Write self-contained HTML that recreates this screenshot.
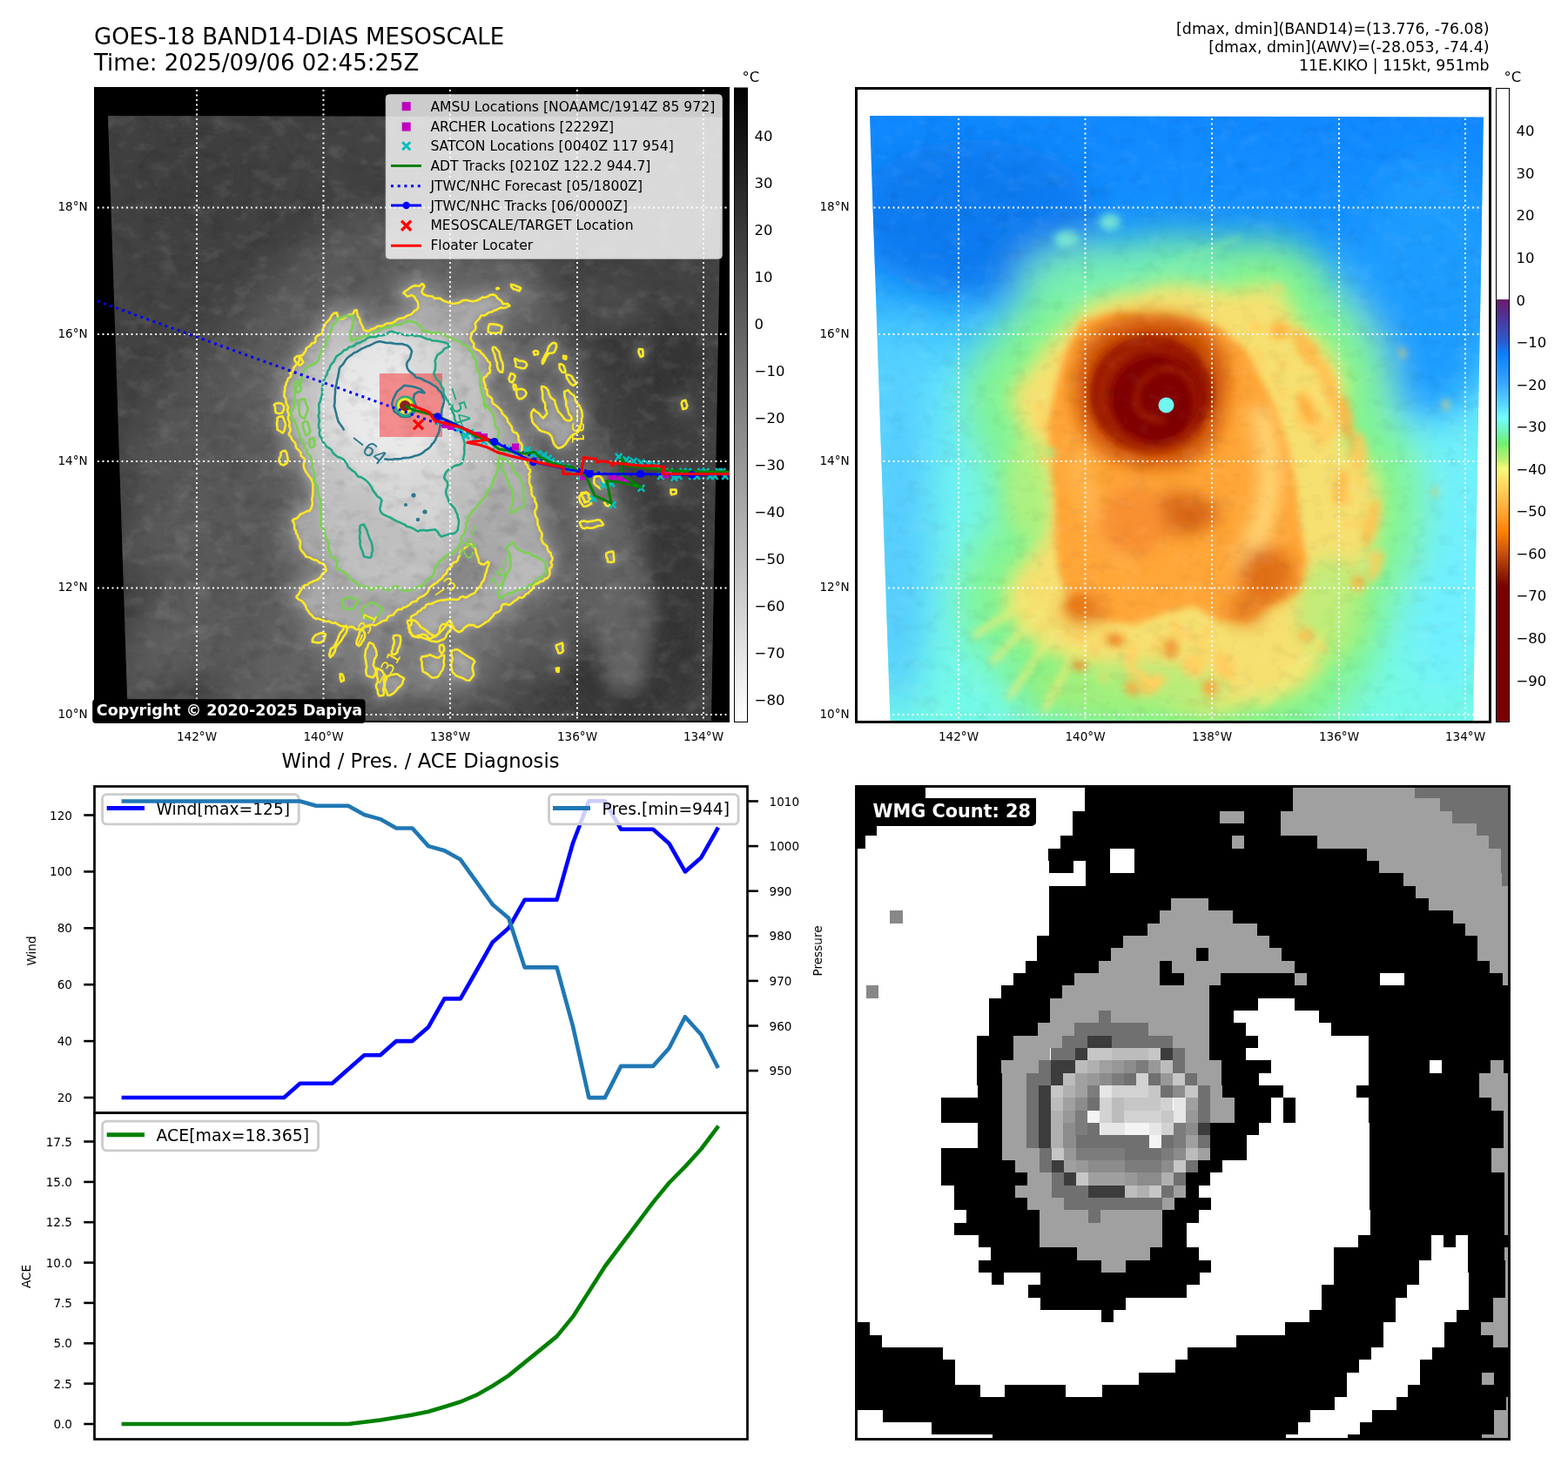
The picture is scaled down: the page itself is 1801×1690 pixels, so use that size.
<!DOCTYPE html>
<html><head><meta charset="utf-8"><title>GOES-18 BAND14-DIAS MESOSCALE</title>
<style>html,body{margin:0;padding:0;background:#fff;} svg{display:block;} text{font-family:"DejaVu Sans","Liberation Sans",sans-serif;}</style>
</head><body>
<svg xmlns="http://www.w3.org/2000/svg" width="1801" height="1690" viewBox="0 0 1801 1690">
<rect width="1801" height="1690" fill="#fff"/>
<text x="108.0" y="50.7" font-size="26" text-anchor="start" font-weight="normal" fill="#000" >GOES-18 BAND14-DIAS MESOSCALE</text>
<text x="108.0" y="80.5" font-size="26" text-anchor="start" font-weight="normal" fill="#000" >Time: 2025/09/06 02:45:25Z</text>
<text x="1710.5" y="39.0" font-size="17.4" text-anchor="end" font-weight="normal" fill="#000" >[dmax, dmin](BAND14)=(13.776, -76.08)</text>
<text x="1710.5" y="60.0" font-size="17.4" text-anchor="end" font-weight="normal" fill="#000" >[dmax, dmin](AWV)=(-28.053, -74.4)</text>
<text x="1710.5" y="80.5" font-size="17.4" text-anchor="end" font-weight="normal" fill="#000" >11E.KIKO | 115kt, 951mb</text>
<rect x="108" y="100" width="730" height="730" fill="#000"/>
<defs><clipPath id="tlclip"><polygon points="124,133 829.5,134.5 817,828 147,828"/></clipPath><filter id="bl4" filterUnits="userSpaceOnUse" x="0" y="0" width="1801" height="900"><feGaussianBlur stdDeviation="4"/></filter><filter id="bl10" filterUnits="userSpaceOnUse" x="0" y="0" width="1801" height="900"><feGaussianBlur stdDeviation="10"/></filter><filter id="bl22" filterUnits="userSpaceOnUse" x="0" y="0" width="1801" height="900"><feGaussianBlur stdDeviation="22"/></filter></defs>
<g clip-path="url(#tlclip)">
<rect x="110" y="120" width="720" height="720" fill="#424242"/>
<g filter="url(#bl22)">
<ellipse cx="720" cy="700" rx="90" ry="140" fill="#363636"/>
<ellipse cx="690" cy="420" rx="80" ry="60" fill="#3a3a3a"/>
<ellipse cx="220" cy="200" rx="90" ry="60" fill="#3c3c3c"/>
<ellipse cx="250" cy="560" rx="90" ry="160" fill="#555" />
<ellipse cx="300" cy="720" rx="110" ry="60" fill="#5a5a5a"/>
<ellipse cx="470" cy="330" rx="120" ry="40" fill="#5a5a5a"/>
<ellipse cx="640" cy="620" rx="60" ry="120" fill="#5a5a5a"/>
</g>
<g filter="url(#bl22)" opacity="0.9">
<ellipse cx="450" cy="560" rx="250" ry="300" fill="#555"/>
<ellipse transform="rotate(-35 250 690)" cx="250" cy="690" rx="130" ry="40" fill="#646464"/>
<ellipse transform="rotate(-30 220 600)" cx="220" cy="600" rx="90" ry="30" fill="#5e5e5e"/>
<ellipse transform="rotate(-40 330 770)" cx="330" cy="770" rx="110" ry="35" fill="#666"/>
<ellipse transform="rotate(-60 400 300)" cx="400" cy="300" rx="70" ry="30" fill="#5a5a5a"/>
<ellipse transform="rotate(-35 200 760)" cx="200" cy="760" rx="90" ry="22" fill="#606060"/>
<ellipse transform="rotate(-40 280 610)" cx="280" cy="610" rx="70" ry="20" fill="#626262"/>
<ellipse transform="rotate(-20 180 520)" cx="180" cy="520" rx="50" ry="18" fill="#585858"/>
<ellipse cx="700" cy="640" rx="50" ry="110" fill="#4c4c4c"/>
<ellipse cx="760" cy="450" rx="50" ry="60" fill="#3a3a3a"/>
</g>
<g filter="url(#bl10)">
<path d="M635,470 L680,505 L725,590 L750,690 L742,790 L700,800 L672,700 L645,610 L625,530 Z" fill="#646464"/>
<ellipse cx="772" cy="420" rx="34" ry="40" fill="#353535"/>
<ellipse cx="775" cy="640" rx="28" ry="80" fill="#393939"/>
<ellipse cx="700" cy="350" rx="40" ry="30" fill="#4c4c4c"/>
</g>
<g filter="url(#bl22)">
<path d="M333.2,429.7 L339.0,421.1 L343.3,413.8 L349.1,405.2 L356.3,396.5 L363.5,389.3 L369.3,382.1 L373.6,374.9 L379.4,366.2 L383.7,360.4 L386.6,359.0 L388.1,367.6 L392.4,366.2 L401.1,361.9 L409.7,356.1 L412.6,363.3 L415.5,372.0 L416.9,379.2 L421.3,379.2 L427.0,377.7 L434.3,376.3 L441.5,373.4 L450.1,370.5 L458.8,366.2 L466.0,363.3 L471.8,361.9 L476.1,360.4 L479.0,353.2 L480.5,346.0 L476.1,340.2 L467.5,341.7 L463.1,337.3 L467.5,331.5 L476.1,328.7 L487.7,326.5 L489.1,330.1 L484.8,334.4 L487.7,338.8 L496.3,341.7 L505.0,343.1 L512.2,347.4 L519.4,348.9 L526.6,347.4 L536.8,346.0 L545.4,344.5 L554.1,341.7 L560.0,340.2 L566.2,340.0 L572.3,343.1 L576.9,349.2 L586.2,350.8 L575.4,353.8 L564.6,356.9 L555.4,361.5 L549.2,366.2 L546.2,372.3 L543.1,380.0 L540.0,386.2 L546.2,400.0 L555.4,407.7 L561.5,416.9 L564.6,426.2 L556.9,433.8 L555.4,441.5 L560.0,450.8 L564.6,458.5 L569.2,464.6 L573.8,470.8 L578.5,476.9 L583.1,484.6 L587.7,490.8 L592.3,498.5 L596.9,504.6 L600.0,515.4 L603.1,527.7 L607.7,540.0 L609.2,560.0 L610.3,560.0 L613.5,572.2 L615.2,586.9 L617.2,596.6 L619.6,608.9 L623.3,621.1 L629.9,630.9 L633.5,640.6 L632.3,654.1 L628.2,663.8 L620.8,668.7 L613.5,673.6 L606.2,680.9 L596.4,687.0 L586.6,693.2 L576.8,696.8 L570.7,704.1 L563.4,711.5 L554.9,716.4 L546.3,720.0 L539.0,717.6 L534.1,722.5 L528.0,726.1 L521.9,722.5 L515.8,717.6 L508.4,716.4 L501.1,728.6 L495.0,733.5 L487.7,728.6 L480.3,731.0 L473.0,731.0 L469.3,721.3 L473.0,709.0 L477.9,704.1 L485.2,699.3 L492.6,694.4 L499.9,689.5 L507.2,688.3 L514.5,689.5 L521.9,689.5 L529.2,687.0 L536.5,684.6 L542.6,682.2 L548.8,677.3 L553.6,672.4 L556.1,665.1 L559.7,657.7 L562.2,649.2 L559.7,644.3 L556.1,649.2 L551.2,645.5 L547.5,638.2 L545.1,629.6 L541.4,624.7 L536.5,626.0 L532.9,630.9 L528.0,638.2 L523.1,644.3 L518.2,650.4 L514.5,656.5 L509.7,662.6 L502.3,669.9 L495.0,676.1 L487.7,682.2 L480.3,688.3 L470.6,694.4 L460.8,699.3 L451.0,706.6 L441.3,713.9 L431.5,718.8 L421.7,720.0 L411.9,722.5 L402.2,721.3 L394.8,718.8 L387.5,716.4 L377.7,712.7 L368.0,712.7 L360.6,709.0 L355.7,704.1 L350.9,696.8 L343.5,689.5 L338.6,684.6 L342.3,682.2 L348.4,674.8 L355.7,669.9 L363.1,665.1 L370.4,660.2 L375.3,655.3 L372.8,648.0 L368.0,645.5 L363.1,643.1 L353.3,640.6 L351.1,640.1 L345.5,627.3 L339.8,613.1 L335.5,598.9 L356.8,584.7 L358.2,570.5 L359.7,556.2 L349.7,542.0 L349.0,527.8 L341.2,513.6 L332.7,499.4 L331.2,471.0 L325.6,449.7 L334.1,428.4 Z" fill="#7a7a7a" stroke="#626262" stroke-width="110" stroke-linejoin="round"/>
<path d="M330,420 L360,300 L420,250 L470,300 L420,380 Z" fill="#5a5a5a"/>
<path d="M230,560 L330,470 L330,700 L230,760 Z" fill="#585858"/>
<ellipse cx="470" cy="740" rx="120" ry="60" fill="#6a6a6a"/>
<ellipse cx="615" cy="450" rx="50" ry="70" fill="#5c5c5c"/>
</g>
<g filter="url(#bl10)">
<path d="M395,712 L470,705 L545,725 L550,790 L480,800 L420,790 L385,760 Z" fill="#7a7a7a"/>
<path d="M460,715 L520,660 L545,628 L560,640 L540,690 L500,720 Z" fill="#8a8a8a"/>
<path d="M333.2,429.7 L339.0,421.1 L343.3,413.8 L349.1,405.2 L356.3,396.5 L363.5,389.3 L369.3,382.1 L373.6,374.9 L379.4,366.2 L383.7,360.4 L386.6,359.0 L388.1,367.6 L392.4,366.2 L401.1,361.9 L409.7,356.1 L412.6,363.3 L415.5,372.0 L416.9,379.2 L421.3,379.2 L427.0,377.7 L434.3,376.3 L441.5,373.4 L450.1,370.5 L458.8,366.2 L466.0,363.3 L471.8,361.9 L476.1,360.4 L479.0,353.2 L480.5,346.0 L476.1,340.2 L467.5,341.7 L463.1,337.3 L467.5,331.5 L476.1,328.7 L487.7,326.5 L489.1,330.1 L484.8,334.4 L487.7,338.8 L496.3,341.7 L505.0,343.1 L512.2,347.4 L519.4,348.9 L526.6,347.4 L536.8,346.0 L545.4,344.5 L554.1,341.7 L560.0,340.2 L566.2,340.0 L572.3,343.1 L576.9,349.2 L586.2,350.8 L575.4,353.8 L564.6,356.9 L555.4,361.5 L549.2,366.2 L546.2,372.3 L543.1,380.0 L540.0,386.2 L546.2,400.0 L555.4,407.7 L561.5,416.9 L564.6,426.2 L556.9,433.8 L555.4,441.5 L560.0,450.8 L564.6,458.5 L569.2,464.6 L573.8,470.8 L578.5,476.9 L583.1,484.6 L587.7,490.8 L592.3,498.5 L596.9,504.6 L600.0,515.4 L603.1,527.7 L607.7,540.0 L609.2,560.0 L610.3,560.0 L613.5,572.2 L615.2,586.9 L617.2,596.6 L619.6,608.9 L623.3,621.1 L629.9,630.9 L633.5,640.6 L632.3,654.1 L628.2,663.8 L620.8,668.7 L613.5,673.6 L606.2,680.9 L596.4,687.0 L586.6,693.2 L576.8,696.8 L570.7,704.1 L563.4,711.5 L554.9,716.4 L546.3,720.0 L539.0,717.6 L534.1,722.5 L528.0,726.1 L521.9,722.5 L515.8,717.6 L508.4,716.4 L501.1,728.6 L495.0,733.5 L487.7,728.6 L480.3,731.0 L473.0,731.0 L469.3,721.3 L473.0,709.0 L477.9,704.1 L485.2,699.3 L492.6,694.4 L499.9,689.5 L507.2,688.3 L514.5,689.5 L521.9,689.5 L529.2,687.0 L536.5,684.6 L542.6,682.2 L548.8,677.3 L553.6,672.4 L556.1,665.1 L559.7,657.7 L562.2,649.2 L559.7,644.3 L556.1,649.2 L551.2,645.5 L547.5,638.2 L545.1,629.6 L541.4,624.7 L536.5,626.0 L532.9,630.9 L528.0,638.2 L523.1,644.3 L518.2,650.4 L514.5,656.5 L509.7,662.6 L502.3,669.9 L495.0,676.1 L487.7,682.2 L480.3,688.3 L470.6,694.4 L460.8,699.3 L451.0,706.6 L441.3,713.9 L431.5,718.8 L421.7,720.0 L411.9,722.5 L402.2,721.3 L394.8,718.8 L387.5,716.4 L377.7,712.7 L368.0,712.7 L360.6,709.0 L355.7,704.1 L350.9,696.8 L343.5,689.5 L338.6,684.6 L342.3,682.2 L348.4,674.8 L355.7,669.9 L363.1,665.1 L370.4,660.2 L375.3,655.3 L372.8,648.0 L368.0,645.5 L363.1,643.1 L353.3,640.6 L351.1,640.1 L345.5,627.3 L339.8,613.1 L335.5,598.9 L356.8,584.7 L358.2,570.5 L359.7,556.2 L349.7,542.0 L349.0,527.8 L341.2,513.6 L332.7,499.4 L331.2,471.0 L325.6,449.7 L334.1,428.4 Z" fill="#949494" stroke="#848484" stroke-width="22" stroke-linejoin="round"/>
<path d="M358.0,737.9 L360.0,731.9 L368.0,725.9 L374.0,727.9 L372.0,735.9 L364.0,739.9 Z" fill="#8a8a8a" stroke="#7a7a7a" stroke-width="8"/>
<path d="M397.9,717.9 L399.9,723.9 L389.9,737.9 L383.9,747.9 L380.0,755.9 L377.0,751.9 L383.9,739.9 L391.9,727.9 Z" fill="#8a8a8a" stroke="#7a7a7a" stroke-width="8"/>
<path d="M415.9,721.9 L419.9,727.9 L411.9,743.9 L407.9,739.9 L411.9,729.9 Z" fill="#8a8a8a" stroke="#7a7a7a" stroke-width="8"/>
<path d="M423.9,737.9 L429.9,739.9 L431.9,751.9 L427.9,763.9 L431.9,771.9 L427.9,779.9 L421.9,775.9 L419.9,763.9 L417.9,751.9 Z" fill="#8a8a8a" stroke="#7a7a7a" stroke-width="8"/>
<path d="M431.9,767.9 L439.9,769.9 L443.9,779.9 L439.9,791.9 L441.9,799.9 L435.9,799.9 L431.9,789.9 L433.9,779.9 Z" fill="#8a8a8a" stroke="#7a7a7a" stroke-width="8"/>
<path d="M439.9,779.9 L451.9,773.9 L459.9,775.9 L465.9,779.9 L459.9,787.9 L451.9,795.9 L443.9,799.9 Z" fill="#8a8a8a" stroke="#7a7a7a" stroke-width="8"/>
<path d="M451.9,729.9 L459.9,729.9 L459.9,739.9 L453.9,751.9 L449.9,751.9 L451.9,739.9 Z" fill="#8a8a8a" stroke="#7a7a7a" stroke-width="8"/>
<path d="M483.9,753.9 L493.9,751.9 L503.9,755.9 L509.9,751.9 L509.9,763.9 L505.9,775.9 L499.9,779.9 L491.9,775.9 L485.9,771.9 L483.9,763.9 Z" fill="#8a8a8a" stroke="#7a7a7a" stroke-width="8"/>
<path d="M517.9,747.9 L523.9,745.9 L533.9,751.9 L539.9,755.9 L545.9,759.9 L541.9,765.9 L545.9,775.9 L539.9,781.9 L531.9,779.9 L523.9,775.9 L517.9,771.9 L519.9,759.9 Z" fill="#8a8a8a" stroke="#7a7a7a" stroke-width="8"/>
<path d="M467.9,711.9 L475.9,711.9 L483.9,719.9 L491.9,727.9 L499.9,731.9 L505.9,727.9 L511.9,719.9 L515.9,711.9 L519.9,719.9 L511.9,731.9 L503.9,737.9 L491.9,735.9 L479.9,731.9 L471.9,729.9 Z" fill="#8a8a8a" stroke="#7a7a7a" stroke-width="8"/>
<path d="M503.9,739.9 L509.9,739.9 L511.9,747.9 L507.9,751.9 L503.9,747.9 Z" fill="#8a8a8a" stroke="#7a7a7a" stroke-width="8"/>
<path d="M389.9,773.9 L393.9,773.9 L395.9,781.9 L391.9,783.9 L389.9,779.9 Z" fill="#8a8a8a" stroke="#7a7a7a" stroke-width="8"/>
<path d="M637.8,765.9 L641.8,765.9 L641.8,771.9 L637.8,771.9 Z" fill="#8a8a8a" stroke="#7a7a7a" stroke-width="8"/>
<path d="M566.2,396.9 L570.8,398.5 L573.8,407.7 L576.9,420.0 L577.7,427.7 L574.6,427.7 L570.8,416.9 L567.7,407.7 Z" fill="#8a8a8a" stroke="#7a7a7a" stroke-width="8"/>
<path d="M586.2,427.7 L590.8,429.2 L592.3,435.4 L589.2,440.0 L584.6,438.5 Z" fill="#8a8a8a" stroke="#7a7a7a" stroke-width="8"/>
<path d="M589.2,441.5 L593.8,441.5 L593.8,447.7 L589.2,448.5 Z" fill="#8a8a8a" stroke="#7a7a7a" stroke-width="8"/>
<path d="M592.3,447.7 L603.1,447.7 L604.6,455.4 L600.0,458.5 L593.8,456.9 Z" fill="#8a8a8a" stroke="#7a7a7a" stroke-width="8"/>
<path d="M590.8,410.8 L596.9,413.8 L603.1,416.9 L606.9,420.0 L603.1,423.1 L596.9,423.1 L592.3,421.5 Z" fill="#8a8a8a" stroke="#7a7a7a" stroke-width="8"/>
<path d="M612.3,404.6 L618.5,403.1 L619.2,406.2 L613.8,408.5 Z" fill="#8a8a8a" stroke="#7a7a7a" stroke-width="8"/>
<path d="M633.8,393.8 L640.0,394.6 L636.9,404.6 L627.7,407.7 L623.1,418.5 L621.5,416.9 L627.7,404.6 Z" fill="#8a8a8a" stroke="#7a7a7a" stroke-width="8"/>
<path d="M646.2,407.7 L650.8,408.5 L650.8,412.3 L646.2,412.3 Z" fill="#8a8a8a" stroke="#7a7a7a" stroke-width="8"/>
<path d="M641.5,418.5 L647.7,420.0 L650.8,427.7 L646.2,427.7 L643.1,423.1 Z" fill="#8a8a8a" stroke="#7a7a7a" stroke-width="8"/>
<path d="M649.2,430.8 L656.9,432.3 L663.1,441.5 L658.5,443.1 L652.3,438.5 Z" fill="#8a8a8a" stroke="#7a7a7a" stroke-width="8"/>
<path d="M621.5,443.1 L627.7,444.6 L630.8,452.3 L636.9,460.0 L640.0,469.2 L646.2,478.5 L653.8,484.6 L658.5,481.5 L652.3,472.3 L649.2,463.1 L647.7,450.8 L652.3,447.7 L658.5,453.8 L663.1,463.1 L667.7,472.3 L667.7,484.6 L664.6,493.8 L658.5,500.0 L652.3,506.2 L646.2,512.3 L641.5,515.4 L636.9,509.2 L633.8,500.0 L627.7,496.9 L618.5,493.8 L612.3,484.6 L609.2,473.8 L612.3,469.2 L618.5,475.4 L624.6,481.5 L627.7,475.4 L626.2,463.1 L623.1,453.8 Z" fill="#8a8a8a" stroke="#7a7a7a" stroke-width="8"/>
<path d="M586.2,326.2 L593.8,327.7 L600.0,330.8 L596.9,335.4 L589.2,332.3 Z" fill="#8a8a8a" stroke="#7a7a7a" stroke-width="8"/>
<path d="M569.2,330.8 L573.8,330.8 L573.8,332.3 L569.2,332.6 Z" fill="#8a8a8a" stroke="#7a7a7a" stroke-width="8"/>
<path d="M561.5,372.3 L566.2,370.8 L573.8,372.3 L578.5,375.4 L575.4,381.5 L566.2,383.1 L560.0,381.5 Z" fill="#8a8a8a" stroke="#7a7a7a" stroke-width="8"/>
<path d="M733.0,400.0 L738.0,401.0 L740.0,410.0 L735.0,411.0 Z" fill="#8a8a8a" stroke="#7a7a7a" stroke-width="8"/>
<path d="M783.0,460.0 L788.0,459.0 L789.0,470.0 L784.0,471.0 Z" fill="#8a8a8a" stroke="#7a7a7a" stroke-width="8"/>
<path d="M696.0,636.0 L704.0,633.0 L706.0,645.0 L698.0,646.0 Z" fill="#8a8a8a" stroke="#7a7a7a" stroke-width="8"/>
<path d="M638.0,741.0 L645.0,738.0 L648.0,748.0 L641.0,751.0 Z" fill="#8a8a8a" stroke="#7a7a7a" stroke-width="8"/>
<path d="M665.0,600.0 L690.0,597.0 L694.0,604.0 L668.0,607.0 Z" fill="#8a8a8a" stroke="#7a7a7a" stroke-width="8"/>
<path d="M665.0,570.0 L675.0,566.0 L680.0,578.0 L670.0,582.0 Z" fill="#8a8a8a" stroke="#7a7a7a" stroke-width="8"/>
<path d="M770.0,563.0 L776.0,562.0 L777.0,568.0 L771.0,569.0 Z" fill="#8a8a8a" stroke="#7a7a7a" stroke-width="8"/>
<path d="M314.0,465.0 L320.0,462.0 L326.0,466.0 L324.0,474.0 L317.0,474.0 Z" fill="#8a8a8a" stroke="#7a7a7a" stroke-width="8"/>
<path d="M318.0,480.0 L324.0,478.0 L327.0,488.0 L325.0,498.0 L319.0,494.0 Z" fill="#8a8a8a" stroke="#7a7a7a" stroke-width="8"/>
<path d="M338.0,410.0 L345.0,408.0 L349.0,416.0 L343.0,421.0 Z" fill="#8a8a8a" stroke="#7a7a7a" stroke-width="8"/>
<path d="M322.0,520.0 L328.0,517.0 L331.0,528.0 L326.0,535.0 L321.0,530.0 Z" fill="#8a8a8a" stroke="#7a7a7a" stroke-width="8"/>
<path d="M682.0,548.0 L690.0,547.0 L695.0,556.0 L690.0,562.0 L683.0,558.0 Z" fill="#8a8a8a" stroke="#7a7a7a" stroke-width="8"/>
<path d="M667.0,567.0 L676.0,566.0 L680.0,573.0 L672.0,578.0 Z" fill="#8a8a8a" stroke="#7a7a7a" stroke-width="8"/>
<path d="M693.0,577.0 L700.0,576.0 L702.0,581.0 L695.0,582.0 Z" fill="#8a8a8a" stroke="#7a7a7a" stroke-width="8"/>
</g>
<g filter="url(#bl4)">
<path d="M333.2,429.7 L339.0,421.1 L343.3,413.8 L349.1,405.2 L356.3,396.5 L363.5,389.3 L369.3,382.1 L373.6,374.9 L379.4,366.2 L383.7,360.4 L386.6,359.0 L388.1,367.6 L392.4,366.2 L401.1,361.9 L409.7,356.1 L412.6,363.3 L415.5,372.0 L416.9,379.2 L421.3,379.2 L427.0,377.7 L434.3,376.3 L441.5,373.4 L450.1,370.5 L458.8,366.2 L466.0,363.3 L471.8,361.9 L476.1,360.4 L479.0,353.2 L480.5,346.0 L476.1,340.2 L467.5,341.7 L463.1,337.3 L467.5,331.5 L476.1,328.7 L487.7,326.5 L489.1,330.1 L484.8,334.4 L487.7,338.8 L496.3,341.7 L505.0,343.1 L512.2,347.4 L519.4,348.9 L526.6,347.4 L536.8,346.0 L545.4,344.5 L554.1,341.7 L560.0,340.2 L566.2,340.0 L572.3,343.1 L576.9,349.2 L586.2,350.8 L575.4,353.8 L564.6,356.9 L555.4,361.5 L549.2,366.2 L546.2,372.3 L543.1,380.0 L540.0,386.2 L546.2,400.0 L555.4,407.7 L561.5,416.9 L564.6,426.2 L556.9,433.8 L555.4,441.5 L560.0,450.8 L564.6,458.5 L569.2,464.6 L573.8,470.8 L578.5,476.9 L583.1,484.6 L587.7,490.8 L592.3,498.5 L596.9,504.6 L600.0,515.4 L603.1,527.7 L607.7,540.0 L609.2,560.0 L610.3,560.0 L613.5,572.2 L615.2,586.9 L617.2,596.6 L619.6,608.9 L623.3,621.1 L629.9,630.9 L633.5,640.6 L632.3,654.1 L628.2,663.8 L620.8,668.7 L613.5,673.6 L606.2,680.9 L596.4,687.0 L586.6,693.2 L576.8,696.8 L570.7,704.1 L563.4,711.5 L554.9,716.4 L546.3,720.0 L539.0,717.6 L534.1,722.5 L528.0,726.1 L521.9,722.5 L515.8,717.6 L508.4,716.4 L501.1,728.6 L495.0,733.5 L487.7,728.6 L480.3,731.0 L473.0,731.0 L469.3,721.3 L473.0,709.0 L477.9,704.1 L485.2,699.3 L492.6,694.4 L499.9,689.5 L507.2,688.3 L514.5,689.5 L521.9,689.5 L529.2,687.0 L536.5,684.6 L542.6,682.2 L548.8,677.3 L553.6,672.4 L556.1,665.1 L559.7,657.7 L562.2,649.2 L559.7,644.3 L556.1,649.2 L551.2,645.5 L547.5,638.2 L545.1,629.6 L541.4,624.7 L536.5,626.0 L532.9,630.9 L528.0,638.2 L523.1,644.3 L518.2,650.4 L514.5,656.5 L509.7,662.6 L502.3,669.9 L495.0,676.1 L487.7,682.2 L480.3,688.3 L470.6,694.4 L460.8,699.3 L451.0,706.6 L441.3,713.9 L431.5,718.8 L421.7,720.0 L411.9,722.5 L402.2,721.3 L394.8,718.8 L387.5,716.4 L377.7,712.7 L368.0,712.7 L360.6,709.0 L355.7,704.1 L350.9,696.8 L343.5,689.5 L338.6,684.6 L342.3,682.2 L348.4,674.8 L355.7,669.9 L363.1,665.1 L370.4,660.2 L375.3,655.3 L372.8,648.0 L368.0,645.5 L363.1,643.1 L353.3,640.6 L351.1,640.1 L345.5,627.3 L339.8,613.1 L335.5,598.9 L356.8,584.7 L358.2,570.5 L359.7,556.2 L349.7,542.0 L349.0,527.8 L341.2,513.6 L332.7,499.4 L331.2,471.0 L325.6,449.7 L334.1,428.4 Z" fill="#a8a8a8"/>
<path d="M358.0,737.9 L360.0,731.9 L368.0,725.9 L374.0,727.9 L372.0,735.9 L364.0,739.9 Z" fill="#a0a0a0"/>
<path d="M397.9,717.9 L399.9,723.9 L389.9,737.9 L383.9,747.9 L380.0,755.9 L377.0,751.9 L383.9,739.9 L391.9,727.9 Z" fill="#a0a0a0"/>
<path d="M415.9,721.9 L419.9,727.9 L411.9,743.9 L407.9,739.9 L411.9,729.9 Z" fill="#a0a0a0"/>
<path d="M423.9,737.9 L429.9,739.9 L431.9,751.9 L427.9,763.9 L431.9,771.9 L427.9,779.9 L421.9,775.9 L419.9,763.9 L417.9,751.9 Z" fill="#a0a0a0"/>
<path d="M431.9,767.9 L439.9,769.9 L443.9,779.9 L439.9,791.9 L441.9,799.9 L435.9,799.9 L431.9,789.9 L433.9,779.9 Z" fill="#a0a0a0"/>
<path d="M439.9,779.9 L451.9,773.9 L459.9,775.9 L465.9,779.9 L459.9,787.9 L451.9,795.9 L443.9,799.9 Z" fill="#a0a0a0"/>
<path d="M451.9,729.9 L459.9,729.9 L459.9,739.9 L453.9,751.9 L449.9,751.9 L451.9,739.9 Z" fill="#a0a0a0"/>
<path d="M483.9,753.9 L493.9,751.9 L503.9,755.9 L509.9,751.9 L509.9,763.9 L505.9,775.9 L499.9,779.9 L491.9,775.9 L485.9,771.9 L483.9,763.9 Z" fill="#a0a0a0"/>
<path d="M517.9,747.9 L523.9,745.9 L533.9,751.9 L539.9,755.9 L545.9,759.9 L541.9,765.9 L545.9,775.9 L539.9,781.9 L531.9,779.9 L523.9,775.9 L517.9,771.9 L519.9,759.9 Z" fill="#a0a0a0"/>
<path d="M467.9,711.9 L475.9,711.9 L483.9,719.9 L491.9,727.9 L499.9,731.9 L505.9,727.9 L511.9,719.9 L515.9,711.9 L519.9,719.9 L511.9,731.9 L503.9,737.9 L491.9,735.9 L479.9,731.9 L471.9,729.9 Z" fill="#a0a0a0"/>
<path d="M503.9,739.9 L509.9,739.9 L511.9,747.9 L507.9,751.9 L503.9,747.9 Z" fill="#a0a0a0"/>
<path d="M389.9,773.9 L393.9,773.9 L395.9,781.9 L391.9,783.9 L389.9,779.9 Z" fill="#a0a0a0"/>
<path d="M637.8,765.9 L641.8,765.9 L641.8,771.9 L637.8,771.9 Z" fill="#a0a0a0"/>
<path d="M566.2,396.9 L570.8,398.5 L573.8,407.7 L576.9,420.0 L577.7,427.7 L574.6,427.7 L570.8,416.9 L567.7,407.7 Z" fill="#a0a0a0"/>
<path d="M586.2,427.7 L590.8,429.2 L592.3,435.4 L589.2,440.0 L584.6,438.5 Z" fill="#a0a0a0"/>
<path d="M589.2,441.5 L593.8,441.5 L593.8,447.7 L589.2,448.5 Z" fill="#a0a0a0"/>
<path d="M592.3,447.7 L603.1,447.7 L604.6,455.4 L600.0,458.5 L593.8,456.9 Z" fill="#a0a0a0"/>
<path d="M590.8,410.8 L596.9,413.8 L603.1,416.9 L606.9,420.0 L603.1,423.1 L596.9,423.1 L592.3,421.5 Z" fill="#a0a0a0"/>
<path d="M612.3,404.6 L618.5,403.1 L619.2,406.2 L613.8,408.5 Z" fill="#a0a0a0"/>
<path d="M633.8,393.8 L640.0,394.6 L636.9,404.6 L627.7,407.7 L623.1,418.5 L621.5,416.9 L627.7,404.6 Z" fill="#a0a0a0"/>
<path d="M646.2,407.7 L650.8,408.5 L650.8,412.3 L646.2,412.3 Z" fill="#a0a0a0"/>
<path d="M641.5,418.5 L647.7,420.0 L650.8,427.7 L646.2,427.7 L643.1,423.1 Z" fill="#a0a0a0"/>
<path d="M649.2,430.8 L656.9,432.3 L663.1,441.5 L658.5,443.1 L652.3,438.5 Z" fill="#a0a0a0"/>
<path d="M621.5,443.1 L627.7,444.6 L630.8,452.3 L636.9,460.0 L640.0,469.2 L646.2,478.5 L653.8,484.6 L658.5,481.5 L652.3,472.3 L649.2,463.1 L647.7,450.8 L652.3,447.7 L658.5,453.8 L663.1,463.1 L667.7,472.3 L667.7,484.6 L664.6,493.8 L658.5,500.0 L652.3,506.2 L646.2,512.3 L641.5,515.4 L636.9,509.2 L633.8,500.0 L627.7,496.9 L618.5,493.8 L612.3,484.6 L609.2,473.8 L612.3,469.2 L618.5,475.4 L624.6,481.5 L627.7,475.4 L626.2,463.1 L623.1,453.8 Z" fill="#a0a0a0"/>
<path d="M586.2,326.2 L593.8,327.7 L600.0,330.8 L596.9,335.4 L589.2,332.3 Z" fill="#a0a0a0"/>
<path d="M569.2,330.8 L573.8,330.8 L573.8,332.3 L569.2,332.6 Z" fill="#a0a0a0"/>
<path d="M561.5,372.3 L566.2,370.8 L573.8,372.3 L578.5,375.4 L575.4,381.5 L566.2,383.1 L560.0,381.5 Z" fill="#a0a0a0"/>
<path d="M733.0,400.0 L738.0,401.0 L740.0,410.0 L735.0,411.0 Z" fill="#a0a0a0"/>
<path d="M783.0,460.0 L788.0,459.0 L789.0,470.0 L784.0,471.0 Z" fill="#a0a0a0"/>
<path d="M696.0,636.0 L704.0,633.0 L706.0,645.0 L698.0,646.0 Z" fill="#a0a0a0"/>
<path d="M638.0,741.0 L645.0,738.0 L648.0,748.0 L641.0,751.0 Z" fill="#a0a0a0"/>
<path d="M665.0,600.0 L690.0,597.0 L694.0,604.0 L668.0,607.0 Z" fill="#a0a0a0"/>
<path d="M665.0,570.0 L675.0,566.0 L680.0,578.0 L670.0,582.0 Z" fill="#a0a0a0"/>
<path d="M770.0,563.0 L776.0,562.0 L777.0,568.0 L771.0,569.0 Z" fill="#a0a0a0"/>
<path d="M314.0,465.0 L320.0,462.0 L326.0,466.0 L324.0,474.0 L317.0,474.0 Z" fill="#a0a0a0"/>
<path d="M318.0,480.0 L324.0,478.0 L327.0,488.0 L325.0,498.0 L319.0,494.0 Z" fill="#a0a0a0"/>
<path d="M338.0,410.0 L345.0,408.0 L349.0,416.0 L343.0,421.0 Z" fill="#a0a0a0"/>
<path d="M322.0,520.0 L328.0,517.0 L331.0,528.0 L326.0,535.0 L321.0,530.0 Z" fill="#a0a0a0"/>
<path d="M682.0,548.0 L690.0,547.0 L695.0,556.0 L690.0,562.0 L683.0,558.0 Z" fill="#a0a0a0"/>
<path d="M667.0,567.0 L676.0,566.0 L680.0,573.0 L672.0,578.0 Z" fill="#a0a0a0"/>
<path d="M693.0,577.0 L700.0,576.0 L702.0,581.0 L695.0,582.0 Z" fill="#a0a0a0"/>
<path d="M333.2,480.0 L337.5,464.4 L339.0,449.9 L343.3,438.4 L350.5,426.8 L354.9,421.1 L360.6,418.2 L366.4,412.4 L369.3,406.6 L372.2,398.0 L376.5,385.0 L380.8,374.9 L386.6,366.2 L395.3,363.3 L405.4,361.9 L406.8,370.5 L403.9,380.6 L402.5,392.2 L412.6,387.9 L424.2,383.5 L435.7,379.2 L447.2,374.9 L458.8,372.0 L468.9,369.1 L476.1,370.5 L483.3,374.9 L486.2,380.6 L494.9,382.1 L505.0,383.5 L513.7,386.4 L522.3,390.7 L531.0,395.1 L536.8,399.4 L542.5,406.6 L545.4,415.3 L548.3,423.9 L551.2,435.5 L554.1,447.0 L555.5,458.6 L557.0,470.1 L555.4,452.3 L556.9,464.6 L563.1,473.8 L569.2,483.1 L572.3,495.4 L572.3,509.2 L572.3,526.2 L570.8,538.5 L567.7,547.7 L564.6,558.5 L560.0,567.7 L552.3,575.4 L544.6,584.6 L538.5,593.8 L533.8,609.2 L526.2,629.2 L515.4,636.9 L504.6,644.6 L498.5,655.4 L493.8,664.6 L487.7,670.8 L480.3,674.8 L465.7,679.7 L455.9,674.8 L446.1,677.3 L436.4,674.8 L426.6,677.3 L416.8,672.4 L407.0,670.0 L402.2,662.6 L394.8,657.7 L387.5,652.8 L385.0,640.6 L379.5,640.1 L373.9,613.1 L368.2,601.7 L366.8,570.5 L362.5,556.2 L359.7,542.0 L356.8,527.8 L349.7,513.6 L344.0,499.4 L339.8,485.2 Z" fill="#bebebe"/>
<path d="M587.7,621.5 L596.9,633.8 L606.2,635.4 L618.5,640.0 L627.7,647.7 L627.7,658.5 L618.5,664.6 L610.8,670.8 L603.1,676.9 L592.3,680.0 L581.5,683.1 L575.4,689.2 L572.3,680.0 L578.5,667.7 L586.2,652.3 L584.6,640.0 L581.5,629.2 Z" fill="#bababa"/>
<path d="M575.4,526.2 L584.6,532.3 L590.8,540.0 L596.9,547.7 L600.0,560.0 L603.1,572.3 L601.5,581.5 L593.8,587.7 L587.7,590.8 L586.2,583.1 L590.8,575.4 L587.7,563.1 L581.5,550.8 L576.9,538.5 Z" fill="#b2b2b2"/>
<path d="M426.6,560.0 L421.7,554.3 L412.0,547.0 L402.2,539.7 L397.3,529.9 L382.6,520.1 L372.8,510.3 L368.0,500.6 L365.5,481.0 L366.4,464.4 L369.3,450.0 L373.6,435.5 L379.4,421.0 L386.6,409.5 L398.2,400.8 L409.7,395.1 L422.7,389.3 L437.1,385.0 L450.1,380.6 L458.8,383.5 L473.2,385.0 L487.7,387.9 L502.1,392.2 L513.7,395.1 L516.5,398.0 L505.0,405.0 L499.0,415.0 L501.0,424.0 L497.0,430.0 L502.0,436.0 L508.0,444.0 L511.0,453.0 L516.0,465.0 L522.0,478.0 L528.0,492.0 L532.0,505.0 L535.0,518.0 L530.0,532.0 L515.0,540.0 L510.0,548.0 L515.0,556.0 L512.0,563.0 L514.0,572.0 L520.0,582.0 L525.0,591.0 L528.0,600.0 L526.0,609.0 L522.0,614.0 L514.0,614.0 L506.0,618.0 L500.0,609.0 L490.0,609.0 L480.0,611.0 L471.0,606.0 L461.0,601.5 L451.0,596.6 L441.0,592.0 L436.0,584.0 L439.0,575.0 L431.5,567.0 Z" fill="#d2d2d2"/>
<path d="M394.8,494.5 L387.5,481.0 L383.8,466.4 L385.2,447.0 L389.5,424.0 L396.7,413.8 L406.8,405.2 L418.4,399.4 L427.0,395.1 L435.7,391.5 L444.4,393.6 L453.0,395.1 L461.7,395.1 L470.3,398.0 L473.2,403.7 L470.3,412.4 L466.0,418.2 L467.5,423.9 L473.2,428.3 L477.6,434.0 L484.8,435.5 L493.4,439.8 L502.1,445.6 L507.9,452.8 L510.8,461.5 L508.4,466.4 L507.2,481.0 L504.8,495.7 L499.9,505.5 L492.6,515.2 L482.8,521.3 L473.0,525.0 L460.8,527.0 L451.0,528.0 L441.3,527.4 Z" fill="#e2e2e2"/>
<circle cx="465.3" cy="465.8" r="14" fill="#d4d4d4"/>
</g>
<defs><radialGradient id="coreg" cx="450" cy="480" r="120" gradientUnits="userSpaceOnUse"><stop offset="0" stop-color="#fff" stop-opacity="0.35"/><stop offset="1" stop-color="#fff" stop-opacity="0"/></radialGradient></defs>
<ellipse cx="450" cy="480" rx="120" ry="120" fill="url(#coreg)"/>
<circle cx="465.3" cy="466.2" r="7" fill="#3a3a3a"/>
<defs><filter id="tex" x="0" y="0" width="100%" height="100%"><feTurbulence type="fractalNoise" baseFrequency="0.045 0.06" numOctaves="3" seed="7"/><feColorMatrix type="matrix" values="0 0 0 0 1  0 0 0 0 1  0 0 0 0 1  1.2 0 0 0 -0.6"/></filter><filter id="tex2" x="0" y="0" width="100%" height="100%"><feTurbulence type="fractalNoise" baseFrequency="0.05 0.07" numOctaves="3" seed="3"/><feColorMatrix type="matrix" values="0 0 0 0 0  0 0 0 0 0  0 0 0 0 0  1.2 0 0 0 -0.6"/></filter></defs>
<rect x="120" y="130" width="712" height="700" filter="url(#tex)" opacity="0.22"/>
<rect x="120" y="130" width="712" height="700" filter="url(#tex2)" opacity="0.22"/>
<rect x="436" y="429" width="72" height="73" fill="#ff0000" fill-opacity="0.4"/>
<g fill="none" stroke-width="2.6" stroke-linejoin="round">
<path d="M333.0,428.8 L335.4,428.1 L336.8,425.9 L337.1,422.9 L338.8,420.9 L340.4,418.6 L342.4,416.6 L343.9,414.2 L343.6,410.9 L345.0,408.7 L348.1,407.7 L349.3,405.3 L351.2,403.2 L351.7,400.0 L354.2,398.5 L356.6,396.9 L357.9,394.5 L360.9,393.9 L362.5,391.9 L362.4,388.3 L364.1,385.8 L367.5,384.5 L370.3,382.7 L370.5,379.5 L371.3,376.8 L373.0,374.5 L373.7,371.8 L375.5,369.9 L377.6,368.1 L379.3,365.9 L380.8,362.7 L383.5,359.8 L387.0,359.4 L387.6,361.8 L388.1,364.3 L388.5,365.8 L392.5,366.8 L395.5,365.2 L398.2,363.5 L400.7,361.5 L404.0,361.7 L406.0,359.9 L407.2,356.8 L409.7,356.4 L410.0,358.7 L410.6,361.3 L411.3,363.8 L413.2,366.3 L413.5,369.4 L414.9,372.2 L416.7,375.6 L417.7,379.1 L421.4,380.5 L424.5,379.7 L427.2,378.1 L430.6,377.0 L433.5,374.9 L436.3,374.5 L439.3,375.0 L441.5,373.2 L444.1,371.5 L447.3,371.5 L450.5,371.1 L453.3,369.6 L455.8,367.4 L458.6,366.0 L461.3,365.4 L463.9,365.1 L466.2,363.5 L468.8,362.3 L471.7,361.5 L474.0,359.6 L475.7,357.4 L478.6,355.8 L480.6,353.3 L480.3,349.8 L479.6,346.5 L477.5,343.7 L475.7,340.6 L473.0,339.1 L470.2,340.0 L467.8,340.7 L465.9,338.6 L463.4,336.6 L465.3,334.7 L468.0,333.2 L470.5,331.1 L473.2,329.4 L476.0,328.1 L479.1,328.4 L482.1,328.6 L484.4,326.0 L486.4,327.0 L487.5,329.1 L485.8,331.4 L484.4,334.8 L485.3,337.2 L487.7,338.8 L490.5,339.9 L493.6,340.2 L496.5,340.5 L499.1,342.9 L502.1,342.9 L505.4,342.6 L507.5,344.4 L509.8,345.8 L512.5,346.8 L515.9,347.6 L519.5,348.7 L523.1,348.6 L526.5,347.9 L529.1,346.7 L531.5,345.1 L534.0,345.0 L536.6,344.9 L539.7,345.8 L542.8,346.3 L545.8,345.8 L548.7,344.8 L551.5,343.5 L554.1,341.5 L557.2,341.9 L560.1,340.8 L563.2,338.7 L566.9,338.4 L569.9,340.1 L571.8,343.2 L574.5,344.6 L576.4,346.5 L577.4,349.1 L580.1,349.1 L583.4,349.1 L585.5,351.4 L583.6,351.9 L581.1,353.4 L578.3,353.8 L575.3,353.4 L572.7,354.7 L570.2,355.9 L567.5,356.7 L565.3,358.3 L562.6,358.7 L560.2,359.7 L558.3,361.5 L556.0,362.5 L552.8,362.4 L551.3,364.5 L550.0,366.8 L547.4,369.1 L545.6,372.0 L546.5,375.4 L546.0,378.2 L544.1,380.6 L541.4,382.8 L541.1,385.6 L540.6,388.7 L541.4,391.1 L543.0,393.1 L544.5,395.2 L543.9,398.3 L545.5,400.8 L548.4,402.0 L551.2,403.3 L553.0,405.9 L555.4,407.7 L556.9,410.0 L558.8,412.1 L560.1,414.7 L562.7,416.6 L563.1,419.8 L562.2,423.3 L563.1,425.4 L562.7,428.1 L560.2,429.5 L558.7,432.1 L555.8,433.8 L555.5,436.2 L556.1,438.9 L556.7,441.0 L557.7,443.2 L557.3,446.3 L559.6,448.1 L559.3,451.3 L560.1,454.2 L562.8,456.0 L565.1,458.0 L565.2,461.2 L566.2,463.6 L568.5,465.2 L570.7,466.7 L572.7,468.4 L574.4,470.3 L576.1,472.3 L576.7,475.0 L578.7,476.9 L581.1,478.9 L582.6,481.4 L583.1,484.6 L585.0,486.4 L586.4,488.6 L587.9,490.7 L588.2,494.0 L589.8,496.4 L593.4,497.5 L594.9,499.7 L595.6,502.2 L595.3,505.1 L596.7,507.6 L598.9,509.9 L600.0,512.5 L599.4,515.5 L599.2,518.2 L599.9,520.6 L601.7,522.8 L601.4,525.5 L602.4,527.9 L603.6,530.3 L603.8,533.0 L606.1,535.0 L606.6,537.7 L608.9,540.0 L608.9,542.4 L607.3,545.1 L608.6,547.5 L607.8,550.0 L607.9,552.6 L607.9,555.1 L609.2,557.4 L609.6,559.1 L610.6,560.2 L610.0,562.7 L610.7,565.1 L610.6,567.8 L611.7,570.1 L614.2,572.2 L614.2,575.1 L615.6,577.9 L616.5,580.8 L616.2,583.8 L614.3,587.1 L614.5,590.4 L615.5,593.6 L617.3,596.6 L617.4,599.8 L617.6,602.9 L619.1,605.8 L619.7,608.7 L621.4,611.0 L622.6,613.3 L622.5,616.0 L621.6,618.9 L622.7,621.4 L623.9,624.2 L626.5,626.0 L628.6,628.1 L628.9,631.1 L630.0,633.6 L632.7,635.4 L632.8,638.3 L634.7,640.8 L634.4,643.4 L632.5,646.0 L634.1,648.8 L633.3,651.3 L631.1,653.5 L631.4,656.6 L631.5,659.5 L630.5,662.0 L628.5,664.3 L625.6,665.3 L623.6,667.7 L620.4,668.0 L618.2,670.1 L615.0,670.7 L612.7,672.6 L612.0,675.8 L610.5,677.9 L608.3,679.5 L606.6,681.8 L603.8,682.6 L602.1,685.3 L599.6,686.7 L595.9,686.3 L594.0,688.7 L591.5,690.0 L589.2,691.8 L586.9,693.9 L584.6,695.1 L581.3,693.8 L578.4,694.1 L576.0,696.1 L575.6,699.9 L573.6,702.4 L570.4,703.7 L567.8,704.9 L566.6,707.4 L564.8,709.1 L563.0,711.1 L560.8,713.6 L557.8,714.9 L555.1,717.0 L552.5,718.7 L549.7,720.3 L546.4,720.2 L544.3,718.1 L541.4,718.1 L538.6,717.8 L536.0,719.4 L533.3,721.3 L531.0,724.4 L527.7,726.2 L524.5,725.0 L521.8,722.8 L520.6,719.9 L518.7,718.3 L515.6,718.2 L512.0,717.6 L508.6,716.9 L506.7,718.6 L505.4,721.2 L504.9,724.2 L504.1,727.1 L502.0,729.5 L500.0,731.3 L497.0,732.2 L494.0,734.2 L491.7,733.1 L490.2,730.3 L487.9,729.3 L485.0,728.7 L482.7,729.8 L480.1,730.1 L476.7,731.8 L473.7,730.8 L472.6,728.4 L470.5,726.4 L471.0,723.3 L469.2,720.9 L471.0,719.1 L472.6,716.9 L472.7,714.3 L471.8,711.2 L472.4,708.2 L475.5,706.7 L478.5,705.2 L480.3,702.5 L483.2,701.5 L485.0,698.9 L488.0,698.1 L489.4,695.0 L492.2,693.9 L495.7,693.8 L498.2,692.4 L500.5,691.3 L503.7,690.3 L507.1,689.6 L510.8,689.4 L514.5,688.5 L518.1,688.8 L521.4,688.5 L524.5,689.2 L526.9,688.3 L528.9,686.2 L531.3,685.2 L534.5,686.6 L537.1,685.7 L539.7,683.7 L542.7,682.4 L545.3,681.3 L546.7,678.9 L548.5,676.8 L550.6,674.4 L552.3,672.0 L553.1,669.5 L555.3,667.5 L556.1,665.0 L557.1,662.5 L557.3,659.6 L558.7,657.3 L559.2,654.5 L559.9,651.7 L561.2,649.4 L561.7,646.4 L560.2,645.2 L558.3,646.9 L556.1,648.4 L552.9,648.1 L550.0,646.2 L549.7,643.2 L548.9,640.6 L548.0,638.0 L546.8,635.3 L546.5,632.2 L545.4,629.4 L542.8,627.6 L541.2,625.4 L539.2,625.5 L537.3,626.8 L535.0,628.7 L532.6,630.6 L530.0,632.4 L528.5,635.0 L528.2,638.3 L526.4,640.3 L525.9,643.2 L524.3,645.3 L521.5,646.3 L519.2,647.8 L518.7,650.8 L515.7,653.0 L513.6,655.6 L513.0,658.6 L510.8,660.1 L508.9,661.8 L507.8,664.4 L505.5,665.8 L503.5,667.5 L501.8,669.4 L499.0,670.9 L496.3,672.7 L493.9,674.8 L492.4,677.9 L490.8,681.0 L488.4,683.1 L485.8,684.9 L482.7,686.1 L480.1,687.8 L478.4,690.6 L475.3,691.0 L472.7,692.3 L470.7,694.6 L468.3,695.9 L466.0,697.5 L463.3,697.9 L461.3,700.0 L457.6,700.1 L455.1,701.8 L453.2,704.4 L451.2,706.8 L447.8,707.3 L445.3,709.1 L444.0,712.5 L440.9,713.1 L438.2,714.0 L436.0,715.6 L433.6,717.0 L431.3,718.4 L428.0,717.7 L424.8,718.0 L421.8,719.8 L419.1,719.9 L416.9,721.5 L414.6,723.0 L411.8,723.3 L408.6,723.0 L405.6,720.4 L402.7,719.9 L399.5,721.1 L397.3,719.7 L394.7,719.3 L392.0,719.3 L389.6,718.2 L387.3,717.0 L385.1,715.3 L382.1,715.9 L379.7,714.9 L377.5,713.6 L374.5,714.1 L371.2,712.6 L368.3,711.9 L365.9,710.7 L362.7,710.9 L360.1,709.4 L358.0,706.7 L355.4,704.5 L354.0,701.8 L352.0,699.5 L351.2,696.5 L349.9,694.1 L348.2,692.1 L346.5,690.2 L343.8,689.1 L341.2,687.3 L340.4,685.6 L342.8,682.9 L344.6,679.9 L346.1,677.0 L347.9,674.1 L350.3,672.3 L353.5,671.9 L355.3,669.4 L358.4,668.7 L361.0,667.2 L363.9,666.4 L366.3,664.6 L368.6,662.9 L369.8,659.6 L372.7,657.5 L374.8,655.3 L374.0,653.0 L373.5,650.5 L372.4,648.5 L370.2,647.1 L367.3,646.8 L365.3,644.8 L363.0,643.5 L360.5,643.1 L358.1,642.1 L356.0,640.4 L353.5,639.9 L351.4,639.6 L350.3,637.4 L348.4,635.1 L346.5,632.9 L344.9,630.6 L344.6,627.7 L344.9,624.8 L344.9,622.0 L343.8,619.7 L342.3,617.6 L342.0,614.9 L340.2,612.8 L339.8,610.0 L338.2,607.3 L338.2,604.3 L337.8,601.1 L335.9,598.3 L337.1,596.6 L339.8,596.1 L341.9,594.7 L343.6,592.6 L345.3,590.4 L347.9,589.7 L350.2,588.6 L352.5,587.4 L355.3,586.9 L357.1,584.7 L358.1,581.9 L358.9,579.1 L358.7,576.2 L358.3,573.3 L359.1,570.5 L359.2,567.7 L359.4,564.8 L359.5,562.0 L359.3,559.0 L359.7,556.0 L358.7,553.4 L357.6,550.6 L355.8,548.3 L354.2,546.0 L352.5,543.8 L351.1,541.8 L350.0,539.2 L348.9,536.4 L348.6,533.6 L349.8,530.5 L350.0,527.4 L347.8,525.4 L345.7,523.5 L345.7,520.4 L344.0,518.3 L342.1,516.2 L340.0,514.3 L339.7,511.3 L338.9,508.6 L336.8,506.6 L335.2,504.4 L334.0,501.6 L331.6,499.4 L332.5,496.8 L333.9,494.2 L333.1,491.6 L332.1,489.1 L332.6,486.5 L332.1,483.9 L330.8,481.4 L330.9,478.8 L332.3,476.2 L330.7,473.7 L330.0,471.3 L331.2,468.2 L330.0,465.6 L328.8,463.1 L328.5,460.3 L328.1,457.6 L326.3,455.2 L326.6,452.4 L326.7,450.1 L327.4,447.7 L327.1,444.8 L328.4,442.6 L328.7,440.0 L330.1,437.8 L330.6,435.2 L333.0,433.5 L334.4,431.3 L334.2,429.3 Z" stroke="#fde725"/>
<path d="M358.8,737.4 L358.9,734.9 L360.2,732.1 L362.4,729.6 L365.5,728.5 L367.9,727.3 L371.0,727.4 L374.0,728.7 L373.1,732.0 L371.7,736.0 L368.3,738.2 L364.6,738.4 L361.4,737.7 Z" stroke="#fde725"/>
<path d="M397.6,718.8 L398.7,720.8 L398.7,723.4 L397.8,726.6 L395.9,729.5 L393.9,732.3 L392.4,735.5 L390.0,738.1 L387.6,741.0 L385.5,744.3 L384.7,748.4 L382.3,752.3 L379.3,755.2 L378.2,752.6 L379.0,749.1 L379.9,745.6 L383.1,743.4 L385.1,740.6 L386.5,737.3 L388.1,734.0 L389.2,730.4 L390.9,727.2 L393.6,724.4 L395.2,720.8 Z" stroke="#fde725"/>
<path d="M415.7,723.0 L417.6,725.1 L419.1,727.9 L419.2,731.5 L417.9,734.9 L415.7,737.8 L414.1,740.8 L412.2,742.3 L409.4,740.1 L409.6,736.7 L410.8,733.4 L412.2,729.9 L413.3,725.6 Z" stroke="#fde725"/>
<path d="M424.4,738.2 L426.7,739.2 L428.9,740.4 L429.8,743.0 L431.5,745.8 L432.3,748.8 L432.7,752.2 L431.5,755.1 L429.8,757.9 L429.5,761.1 L428.7,764.1 L430.6,767.7 L431.8,772.0 L430.3,775.9 L428.2,778.3 L424.9,777.6 L421.2,775.9 L420.5,773.0 L420.3,770.0 L421.2,766.8 L420.9,763.7 L420.4,760.7 L419.9,757.7 L419.3,754.9 L419.4,752.4 L419.8,749.4 L420.2,746.2 L422.1,743.8 L422.9,740.7 Z" stroke="#fde725"/>
<path d="M432.9,767.8 L435.8,769.1 L438.9,770.6 L440.4,773.6 L442.9,776.5 L444.0,779.9 L442.5,782.7 L441.6,785.8 L441.1,789.0 L440.0,792.2 L441.0,795.7 L440.6,798.7 L435.8,799.5 L434.0,796.8 L433.8,792.9 L432.0,789.7 L432.2,786.5 L433.8,783.3 L434.0,780.0 L432.8,777.0 L432.9,773.9 L432.8,770.6 Z" stroke="#fde725"/>
<path d="M440.9,780.9 L442.6,777.8 L445.9,776.9 L448.6,775.1 L451.8,774.9 L456.0,774.3 L459.3,776.6 L462.4,778.3 L464.2,779.5 L463.0,781.9 L462.2,785.5 L460.1,788.1 L457.1,790.4 L454.9,793.6 L452.1,796.4 L448.4,798.5 L445.5,798.9 L444.4,796.3 L443.3,793.1 L441.7,789.9 L442.0,786.4 L440.9,783.4 Z" stroke="#fde725"/>
<path d="M452.4,730.2 L456.0,729.8 L459.4,730.5 L460.1,733.3 L460.1,736.5 L459.5,739.8 L458.7,743.1 L457.0,746.0 L456.3,749.5 L453.6,751.9 L450.1,751.4 L449.7,748.8 L451.1,745.9 L451.3,742.9 L452.6,739.8 L452.9,736.6 L451.6,733.2 Z" stroke="#fde725"/>
<path d="M484.3,754.6 L487.4,754.1 L490.8,753.6 L494.0,752.2 L497.0,753.8 L500.4,755.2 L503.9,755.6 L506.7,753.3 L510.3,752.7 L510.2,755.9 L509.5,759.9 L510.1,763.9 L509.1,767.0 L508.1,770.0 L506.1,772.5 L504.9,774.9 L503.0,777.6 L500.1,778.5 L495.7,778.4 L492.4,775.4 L489.2,773.1 L485.7,771.6 L485.2,767.8 L484.5,764.0 L484.7,760.6 L483.5,757.3 Z" stroke="#fde725"/>
<path d="M518.4,747.7 L521.0,747.0 L524.2,746.1 L527.6,747.3 L530.6,749.8 L533.8,751.9 L536.9,753.9 L540.0,755.7 L543.3,757.5 L545.4,760.2 L543.7,762.7 L542.6,765.8 L542.8,769.4 L543.7,772.7 L544.3,775.2 L542.0,778.2 L539.4,781.7 L535.7,781.5 L532.1,779.4 L527.9,777.8 L523.8,776.3 L521.2,773.7 L519.5,771.8 L519.1,769.0 L518.3,765.8 L518.5,762.9 L518.8,760.0 L520.0,756.8 L518.7,753.9 L518.6,750.7 Z" stroke="#fde725"/>
<path d="M468.5,713.0 L471.9,712.6 L475.6,712.6 L478.6,714.6 L481.2,717.3 L483.3,720.6 L486.8,722.3 L489.9,724.5 L492.5,727.1 L496.1,729.3 L499.5,730.7 L502.4,729.3 L504.9,727.2 L507.3,724.8 L509.5,722.3 L511.8,719.6 L513.5,715.6 L516.7,712.7 L518.6,715.5 L519.3,719.7 L517.9,723.0 L515.4,725.6 L513.3,728.5 L511.9,732.0 L509.7,734.5 L506.4,735.6 L503.8,736.9 L500.9,737.4 L497.9,736.7 L494.9,736.5 L492.2,734.9 L489.2,733.9 L486.2,732.9 L483.2,732.0 L479.7,732.2 L476.0,730.9 L473.1,729.4 L471.9,726.8 L470.3,724.0 L469.2,721.1 L469.1,718.0 L467.8,715.2 Z" stroke="#fde725"/>
<path d="M505.0,741.5 L508.5,740.9 L510.1,743.9 L510.2,747.4 L507.4,750.8 L505.0,748.0 L504.8,744.1 Z" stroke="#fde725"/>
<path d="M390.7,774.2 L393.0,774.5 L394.6,778.0 L394.9,781.7 L391.9,783.2 L390.8,779.4 Z" stroke="#fde725"/>
<path d="M638.9,767.9 L641.9,767.4 L641.6,771.9 L639.5,771.4 Z" stroke="#fde725"/>
<path d="M566.3,398.7 L569.0,399.3 L571.0,401.8 L573.4,404.4 L573.9,407.7 L574.7,410.7 L575.6,413.8 L577.1,416.7 L577.7,420.0 L577.6,424.0 L577.1,427.7 L574.6,427.4 L572.1,424.5 L571.1,420.9 L571.0,417.0 L569.7,413.9 L568.8,410.8 L568.2,407.5 L566.8,404.2 L565.6,400.9 Z" stroke="#fde725"/>
<path d="M586.7,429.0 L589.6,429.7 L591.8,432.0 L590.9,435.2 L588.6,439.5 L585.6,438.3 L584.5,434.8 L585.9,431.4 Z" stroke="#fde725"/>
<path d="M589.8,441.9 L592.0,442.0 L592.9,444.8 L593.2,447.9 L590.9,447.9 L589.7,444.9 Z" stroke="#fde725"/>
<path d="M593.1,448.6 L595.9,447.0 L599.4,446.9 L602.6,448.2 L604.6,451.2 L603.7,454.6 L600.3,457.4 L596.8,458.5 L594.6,456.7 L593.5,453.8 L593.1,450.9 Z" stroke="#fde725"/>
<path d="M591.2,412.0 L593.5,413.0 L596.5,414.7 L600.3,414.8 L603.7,416.2 L605.4,419.4 L603.1,422.9 L600.1,423.3 L596.7,422.3 L592.6,421.1 L592.5,417.8 L591.4,414.4 Z" stroke="#fde725"/>
<path d="M612.6,404.2 L615.1,402.9 L617.9,403.7 L618.2,406.7 L613.8,407.7 Z" stroke="#fde725"/>
<path d="M634.1,394.4 L636.8,393.9 L638.7,394.8 L639.2,398.0 L638.1,401.4 L636.7,404.6 L633.8,405.7 L630.7,405.8 L628.7,408.2 L626.6,411.5 L625.1,415.2 L623.2,418.0 L622.9,417.2 L623.0,413.8 L624.7,410.8 L626.2,407.7 L628.1,404.9 L629.1,401.8 L630.1,398.9 L632.0,396.4 Z" stroke="#fde725"/>
<path d="M647.1,408.7 L650.4,409.2 L650.2,412.7 L647.2,411.8 Z" stroke="#fde725"/>
<path d="M642.5,418.2 L644.9,418.2 L647.6,420.3 L648.9,424.2 L649.5,428.0 L645.6,427.6 L642.7,423.1 Z" stroke="#fde725"/>
<path d="M650.3,430.5 L653.3,430.7 L656.8,432.4 L658.4,435.8 L660.8,438.5 L661.7,441.0 L658.2,443.0 L655.4,440.9 L653.3,437.9 L651.0,434.3 Z" stroke="#fde725"/>
<path d="M622.1,444.0 L624.4,444.2 L626.9,445.4 L629.5,448.4 L630.5,452.4 L631.9,455.6 L634.2,458.1 L637.1,460.0 L637.7,463.1 L638.7,466.3 L639.9,469.4 L641.2,472.9 L643.9,475.5 L646.2,478.4 L648.1,481.3 L650.9,482.9 L653.8,483.5 L657.0,481.7 L656.1,478.7 L653.6,475.9 L652.6,472.3 L651.8,469.1 L650.4,466.1 L650.3,463.0 L650.0,459.9 L648.9,456.9 L648.4,453.6 L648.3,449.9 L652.4,448.1 L654.9,451.3 L658.6,453.8 L660.5,456.7 L660.8,460.4 L662.6,463.3 L665.3,465.8 L666.8,469.0 L668.2,472.3 L668.6,475.4 L668.9,478.5 L668.0,481.6 L668.0,484.8 L667.1,487.8 L666.5,491.1 L665.2,494.7 L662.2,497.6 L658.0,499.5 L654.8,502.5 L652.3,506.1 L649.9,509.9 L646.3,513.2 L641.3,515.1 L638.5,512.7 L636.0,509.6 L635.1,506.4 L634.1,503.5 L633.1,500.8 L630.8,498.3 L627.7,497.0 L624.6,496.0 L621.5,495.2 L618.8,493.4 L616.8,490.5 L613.9,487.9 L611.5,484.8 L611.0,481.1 L610.1,477.6 L610.5,473.9 L612.9,470.1 L615.2,472.5 L619.0,474.8 L621.6,478.3 L624.1,480.4 L626.0,478.2 L628.2,475.2 L627.8,472.3 L626.3,469.3 L626.4,466.2 L626.0,463.1 L624.0,460.4 L623.1,457.3 L623.3,453.8 L623.1,450.2 L622.1,446.7 Z" stroke="#fde725"/>
<path d="M586.9,326.9 L589.9,327.3 L593.3,328.7 L596.3,330.0 L598.2,331.1 L596.6,334.3 L593.4,333.0 L589.5,331.9 L587.3,329.4 Z" stroke="#fde725"/>
<path d="M570.1,331.2 L572.5,330.9 L573.1,331.6 L570.8,332.2 Z" stroke="#fde725"/>
<path d="M562.1,372.5 L565.7,372.3 L569.6,372.9 L573.3,373.6 L576.6,375.2 L576.1,378.3 L575.1,382.0 L572.3,382.2 L569.3,382.9 L566.3,382.6 L563.1,382.3 L560.7,381.2 L560.7,378.5 L561.2,375.3 Z" stroke="#fde725"/>
<path d="M734.0,401.1 L738.0,401.3 L738.5,404.0 L738.5,407.0 L738.7,409.0 L735.8,410.0 L734.5,407.3 L733.4,403.8 Z" stroke="#fde725"/>
<path d="M783.8,460.7 L787.3,459.8 L788.1,462.7 L789.4,466.2 L788.2,469.1 L784.5,470.1 L783.7,467.3 L782.7,463.8 Z" stroke="#fde725"/>
<path d="M696.4,635.7 L700.0,634.1 L704.1,633.6 L704.8,635.9 L704.8,639.0 L705.2,642.2 L705.2,645.2 L701.9,646.0 L698.1,645.5 L697.7,642.6 L696.3,639.2 Z" stroke="#fde725"/>
<path d="M638.8,741.4 L642.0,740.1 L645.7,738.7 L646.4,741.2 L646.1,744.8 L647.0,747.6 L644.7,750.2 L641.4,750.4 L640.7,747.5 L639.1,744.3 Z" stroke="#fde725"/>
<path d="M665.8,600.1 L668.0,598.8 L671.2,598.6 L674.5,599.6 L677.6,599.0 L680.7,598.6 L683.8,597.9 L686.7,597.2 L689.3,597.8 L691.7,600.5 L693.0,602.8 L690.7,603.7 L687.4,604.0 L684.3,605.3 L681.1,606.4 L677.8,606.7 L674.5,606.1 L671.4,607.2 L668.7,606.4 L666.8,603.3 Z" stroke="#fde725"/>
<path d="M665.6,570.4 L667.9,567.7 L671.5,566.6 L675.0,566.4 L675.8,569.2 L676.8,572.3 L678.0,575.6 L679.4,578.7 L676.9,579.9 L673.6,581.7 L669.9,581.7 L668.4,579.2 L666.4,576.4 L665.5,573.4 Z" stroke="#fde725"/>
<path d="M770.4,562.5 L773.2,562.6 L776.4,562.6 L776.8,564.9 L776.4,567.1 L773.9,567.8 L771.3,568.3 L770.4,565.8 Z" stroke="#fde725"/>
<path d="M314.8,465.0 L316.9,463.7 L319.7,463.1 L323.4,463.6 L326.2,466.4 L326.1,470.5 L323.8,474.5 L320.3,475.3 L316.7,474.0 L316.1,471.0 L316.0,467.6 Z" stroke="#fde725"/>
<path d="M318.5,479.9 L321.2,478.8 L324.6,478.4 L325.8,481.1 L327.2,484.4 L328.1,488.2 L327.2,491.5 L326.5,494.9 L324.7,497.4 L322.0,495.7 L318.6,493.7 L318.6,490.5 L317.9,487.0 L318.6,483.4 Z" stroke="#fde725"/>
<path d="M338.8,411.1 L341.5,409.0 L344.4,409.0 L346.4,412.5 L348.4,416.3 L346.1,418.6 L343.7,419.9 L342.4,417.9 L339.6,415.9 L338.2,413.4 Z" stroke="#fde725"/>
<path d="M322.5,520.0 L324.9,518.3 L327.8,517.8 L329.3,520.6 L330.1,524.4 L330.8,528.2 L329.3,532.1 L325.9,534.4 L322.5,533.2 L320.3,529.9 L320.9,526.6 L322.5,523.3 Z" stroke="#fde725"/>
<path d="M682.8,548.4 L685.8,546.8 L689.3,547.6 L691.7,550.0 L692.7,553.5 L694.5,556.4 L692.1,558.9 L689.5,561.5 L687.1,559.3 L684.2,557.5 L682.1,554.7 L682.4,551.3 Z" stroke="#fde725"/>
<path d="M667.6,566.4 L669.9,566.0 L672.8,565.5 L675.3,566.7 L678.0,569.8 L679.9,573.7 L677.9,575.6 L674.4,576.2 L671.6,577.4 L671.1,575.1 L669.9,572.3 L668.3,569.5 Z" stroke="#fde725"/>
<path d="M694.1,577.5 L696.4,576.0 L699.5,577.0 L701.1,580.8 L698.8,581.6 L696.2,580.7 Z" stroke="#fde725"/>
<path d="M335.0,480.4 L335.1,477.7 L333.5,474.4 L334.2,471.8 L336.8,469.8 L337.7,467.2 L337.9,464.4 L337.5,461.4 L338.3,458.6 L338.8,455.7 L338.8,452.8 L338.3,449.6 L339.6,446.9 L341.0,444.1 L343.0,441.6 L344.9,439.4 L346.1,436.9 L346.5,434.0 L347.4,431.3 L348.3,428.6 L349.3,425.7 L351.4,423.0 L354.6,420.9 L357.5,419.1 L360.4,417.9 L363.3,416.9 L364.8,414.6 L366.3,412.2 L367.0,409.1 L367.7,406.1 L369.3,403.4 L370.2,400.5 L372.3,398.0 L374.4,395.8 L374.5,392.9 L374.3,390.0 L376.6,387.9 L377.7,385.4 L378.6,382.9 L380.0,380.5 L380.8,377.9 L381.6,375.4 L382.4,372.8 L385.0,371.4 L386.4,369.0 L386.9,365.9 L389.7,365.8 L392.6,365.0 L395.3,363.5 L397.8,363.0 L400.4,362.9 L403.0,363.3 L404.9,362.7 L405.1,364.9 L406.3,367.5 L405.5,370.1 L404.9,372.7 L405.2,375.5 L404.2,378.0 L402.7,380.5 L402.7,383.4 L403.3,386.4 L403.6,389.3 L403.0,391.2 L405.1,391.3 L407.4,389.6 L410.4,389.6 L412.6,387.8 L415.8,387.5 L418.4,385.8 L421.7,385.8 L424.5,384.3 L427.1,382.6 L430.0,381.5 L433.0,380.7 L435.8,379.4 L438.4,377.5 L441.2,376.2 L444.4,376.1 L447.6,376.1 L450.2,374.5 L452.8,372.6 L456.1,373.4 L459.0,373.0 L461.6,372.2 L463.7,370.2 L466.6,369.9 L469.3,368.4 L472.6,369.8 L476.3,370.1 L478.9,371.4 L480.7,374.0 L484.0,374.9 L484.9,377.9 L486.3,381.0 L489.2,380.5 L492.1,380.9 L494.7,382.8 L497.4,382.6 L499.9,383.0 L502.7,382.0 L505.3,382.8 L508.2,383.7 L510.8,385.4 L514.0,385.9 L516.3,388.4 L519.8,388.6 L522.3,390.7 L525.8,391.0 L528.4,392.9 L530.7,395.5 L534.5,396.5 L537.3,398.8 L538.5,401.9 L541.0,404.0 L543.3,406.4 L542.8,409.7 L545.3,412.1 L546.9,414.8 L547.0,418.0 L547.0,421.2 L547.8,424.1 L550.0,426.6 L550.7,429.5 L551.8,432.3 L551.5,435.4 L551.1,438.6 L551.6,441.5 L552.0,444.5 L552.8,447.2 L553.2,450.1 L554.0,452.9 L555.3,455.7 L556.2,458.5 L555.8,461.5 L556.9,464.3 L557.7,467.1 L557.2,469.2 L557.5,467.5 L555.8,465.1 L556.2,462.5 L555.8,460.0 L555.6,457.4 L554.4,455.0 L554.2,453.4 L556.0,455.4 L556.1,458.5 L556.9,461.3 L558.2,463.8 L558.8,466.7 L561.0,468.6 L563.0,470.6 L564.5,472.9 L565.9,475.3 L567.2,477.8 L567.6,480.8 L568.7,483.2 L568.3,485.9 L568.7,488.4 L569.7,490.8 L572.1,492.8 L572.7,495.4 L572.9,498.2 L572.1,500.9 L571.7,503.7 L571.3,506.5 L571.7,509.2 L572.9,512.1 L572.7,514.9 L572.6,517.7 L573.9,520.5 L573.9,523.3 L573.1,526.3 L572.9,529.3 L571.4,532.3 L571.9,535.5 L572.0,538.9 L571.0,541.9 L569.8,545.0 L568.6,547.9 L567.1,550.4 L566.4,553.1 L565.8,555.9 L564.5,558.3 L563.8,560.9 L561.2,562.5 L559.7,564.6 L559.2,567.1 L558.1,569.6 L556.1,571.5 L554.3,573.5 L553.2,576.2 L550.8,578.0 L548.6,580.1 L547.4,583.0 L545.6,585.2 L542.7,586.7 L541.7,589.3 L539.8,591.5 L537.4,593.5 L537.3,596.3 L537.1,599.0 L535.1,601.2 L535.7,604.2 L535.8,607.0 L533.9,609.2 L533.9,612.1 L532.4,614.4 L530.1,616.4 L529.7,619.1 L530.2,622.2 L528.6,624.4 L527.4,626.8 L526.1,629.3 L524.4,631.4 L522.0,632.5 L520.4,634.8 L518.1,636.2 L515.5,637.1 L512.8,637.8 L511.5,640.5 L508.8,641.4 L507.1,643.6 L504.7,644.9 L503.3,647.4 L501.5,650.0 L499.5,652.4 L498.9,655.5 L498.5,658.3 L497.5,660.7 L496.1,662.8 L493.2,664.0 L491.1,666.0 L488.7,667.7 L487.3,670.3 L485.7,673.0 L482.7,673.2 L480.0,673.8 L477.6,674.9 L475.4,676.4 L473.1,677.6 L470.6,678.1 L467.8,678.3 L465.4,679.7 L463.2,678.6 L460.9,677.0 L458.8,674.8 L455.8,673.8 L453.1,673.9 L450.7,675.0 L448.6,677.2 L446.0,677.9 L443.6,677.0 L441.1,676.7 L438.7,675.7 L436.2,674.3 L433.6,674.2 L431.3,675.4 L428.7,676.0 L426.0,677.8 L424.0,676.4 L422.1,674.0 L419.0,674.2 L416.6,673.2 L414.0,673.2 L411.6,672.3 L409.9,669.7 L408.4,668.7 L405.8,667.3 L403.0,665.7 L401.4,663.5 L399.3,661.6 L397.5,659.0 L395.1,657.2 L392.4,656.1 L389.7,654.5 L386.8,652.8 L387.0,649.7 L387.6,646.4 L386.6,643.7 L384.7,642.1 L382.4,640.5 L380.3,639.6 L378.8,637.7 L379.4,635.0 L378.3,632.6 L377.9,630.1 L377.2,627.7 L377.9,625.0 L377.0,622.6 L375.6,620.4 L374.0,618.2 L373.7,615.7 L372.7,613.6 L372.9,610.7 L372.4,608.1 L369.9,606.5 L369.1,604.1 L368.2,601.7 L367.9,599.1 L368.7,596.5 L369.3,593.8 L368.5,591.3 L368.0,588.7 L368.6,586.0 L367.4,583.5 L367.9,580.8 L367.9,578.2 L368.0,575.6 L367.8,573.1 L366.2,570.6 L366.0,567.6 L365.0,564.8 L364.9,561.7 L364.8,558.7 L362.9,556.2 L360.7,553.7 L361.1,550.6 L361.6,547.6 L361.5,544.6 L360.5,541.9 L359.7,539.1 L357.8,536.5 L358.9,533.3 L358.3,530.5 L357.4,527.6 L356.9,524.8 L355.4,522.6 L352.7,521.0 L352.8,518.0 L351.5,515.7 L349.3,513.8 L349.2,511.1 L348.0,508.8 L346.4,506.7 L346.3,504.0 L344.3,502.1 L344.1,499.4 L342.9,496.7 L341.7,493.9 L341.5,490.9 L340.5,488.2 L339.2,485.8 L338.1,482.9 L335.2,482.4 Z" stroke="#7ad151"/>
<path d="M588.4,622.2 L589.7,623.9 L591.6,626.3 L593.0,629.1 L594.8,631.3 L597.3,632.1 L600.2,633.0 L603.0,635.3 L606.4,634.9 L609.4,636.0 L611.9,638.7 L615.2,639.3 L617.8,640.8 L620.6,642.1 L623.0,643.9 L625.8,645.1 L626.9,647.8 L626.6,651.3 L627.3,654.7 L626.7,657.6 L624.4,660.2 L622.0,663.3 L618.2,664.3 L615.7,666.4 L613.8,669.3 L611.5,671.7 L607.8,672.3 L605.5,674.6 L602.7,676.0 L599.1,676.7 L595.6,677.9 L592.0,678.9 L588.7,680.8 L585.0,681.4 L581.5,683.1 L577.9,685.3 L576.2,687.8 L573.3,686.5 L572.0,683.4 L572.1,679.9 L574.7,677.4 L575.6,673.9 L577.1,670.8 L578.1,667.5 L579.8,664.5 L581.2,661.4 L582.7,658.3 L584.8,655.4 L586.4,652.3 L587.0,649.1 L586.4,646.0 L586.5,642.9 L586.0,639.5 L585.2,636.0 L583.1,632.5 L581.6,629.0 L584.4,627.3 L586.9,624.9 Z" stroke="#7ad151"/>
<path d="M576.3,526.2 L579.2,527.1 L582.0,529.7 L585.4,531.6 L587.8,534.0 L588.9,537.3 L589.8,540.8 L591.8,543.3 L594.3,545.7 L597.3,547.7 L597.9,550.7 L599.2,553.7 L600.5,556.6 L601.4,559.6 L601.5,562.9 L600.4,566.4 L601.0,569.5 L601.6,572.2 L601.8,575.3 L602.7,578.7 L601.7,581.7 L598.7,583.3 L595.9,584.9 L593.1,586.4 L589.9,588.2 L587.0,589.8 L587.0,587.0 L587.1,583.3 L588.4,579.3 L589.4,575.7 L589.5,572.4 L588.4,569.4 L589.5,565.8 L588.7,562.6 L586.4,559.9 L584.4,557.0 L584.0,553.4 L582.3,550.5 L581.6,547.2 L580.3,544.2 L578.3,541.5 L576.9,538.5 L576.7,535.4 L575.8,532.4 L574.9,529.2 Z" stroke="#7ad151"/>
<path d="M426.8,559.9 L424.7,556.7 L422.3,553.7 L420.0,551.6 L417.4,549.9 L414.9,548.2 L411.5,547.6 L409.5,545.2 L407.7,542.6 L405.1,541.0 L402.9,539.1 L400.0,536.7 L398.6,533.4 L396.8,530.5 L394.4,527.9 L391.4,526.0 L387.9,524.9 L385.0,522.8 L382.4,520.3 L380.8,517.0 L378.1,514.8 L375.0,513.1 L373.2,510.1 L370.7,507.3 L369.5,503.8 L367.3,500.7 L366.6,497.5 L367.5,494.0 L366.2,490.9 L365.9,487.6 L366.9,484.2 L366.5,481.0 L365.7,477.7 L366.7,474.4 L366.4,471.1 L366.5,467.7 L366.2,464.3 L367.9,461.0 L368.7,457.4 L369.8,453.9 L370.2,450.4 L369.9,447.0 L370.5,444.0 L371.0,441.0 L371.7,438.1 L372.6,435.1 L374.2,432.4 L375.8,429.6 L376.3,426.5 L378.3,423.9 L379.2,420.8 L380.9,418.0 L383.5,415.5 L384.8,412.4 L386.5,409.3 L389.5,407.3 L392.5,405.3 L394.9,402.6 L398.4,401.4 L400.8,398.8 L404.1,398.3 L407.1,397.0 L409.5,394.5 L413.1,393.9 L416.2,392.1 L419.4,390.6 L422.3,388.3 L425.2,387.2 L428.3,387.0 L431.5,387.3 L434.2,385.6 L437.4,385.5 L440.7,385.0 L443.9,383.8 L446.8,381.5 L450.1,380.6 L453.0,381.7 L455.7,382.9 L458.9,382.9 L462.4,384.3 L465.9,385.1 L469.6,385.3 L473.3,384.5 L476.7,386.2 L480.6,385.8 L484.2,386.7 L487.5,388.3 L490.3,389.5 L493.4,389.7 L496.1,391.2 L499.2,391.5 L502.4,391.8 L506.1,392.6 L510.2,393.3 L514.3,394.8 L516.0,398.2 L513.4,399.4 L510.3,400.7 L508.3,403.7 L505.8,405.7 L502.3,407.9 L500.8,411.5 L499.7,414.9 L500.2,417.9 L500.1,420.9 L500.0,423.7 L499.0,426.9 L498.1,429.8 L500.0,432.5 L501.6,436.2 L504.6,438.2 L506.0,441.2 L507.4,444.2 L509.4,446.9 L509.5,450.2 L510.0,453.4 L511.7,456.2 L513.1,459.2 L515.4,461.7 L516.5,464.8 L518.0,468.0 L518.6,471.7 L520.7,474.6 L521.9,477.9 L522.1,481.3 L523.3,484.1 L524.6,486.8 L526.7,489.3 L527.9,492.1 L528.6,495.4 L530.0,498.5 L531.5,501.6 L532.4,504.9 L533.5,508.1 L533.7,511.5 L533.1,514.9 L533.5,517.8 L533.3,521.3 L532.5,525.0 L531.7,528.8 L530.2,532.5 L527.2,534.1 L523.7,534.6 L520.6,536.1 L517.9,538.4 L514.7,539.9 L512.7,542.2 L511.2,545.1 L510.1,548.2 L511.2,550.9 L513.4,553.2 L514.3,556.0 L513.8,559.6 L512.4,563.0 L512.1,566.1 L512.9,569.1 L514.3,572.0 L515.3,575.8 L517.5,579.0 L520.0,581.9 L522.5,584.6 L523.6,587.9 L525.3,590.9 L525.8,594.1 L526.8,597.0 L527.0,599.8 L526.7,602.9 L526.1,605.9 L525.8,609.0 L523.8,611.2 L521.6,612.9 L518.0,613.3 L514.1,614.3 L509.9,615.4 L507.0,616.6 L504.7,614.6 L502.9,611.2 L500.0,608.4 L496.7,608.7 L493.4,609.1 L490.1,609.6 L486.5,609.0 L483.1,609.3 L480.0,610.4 L477.2,608.9 L474.3,607.1 L471.1,605.7 L467.5,604.9 L464.5,602.6 L461.2,601.1 L457.8,599.6 L454.3,598.2 L451.1,596.3 L448.0,594.4 L444.6,593.1 L441.5,591.6 L438.5,589.9 L436.9,587.1 L436.3,584.0 L437.1,581.0 L437.6,577.8 L438.6,574.7 L436.6,572.2 L433.4,570.3 L431.2,567.1 L428.6,563.8 Z" stroke="#22a884"/>
<path d="M337.5,440.3 L340.4,438.9 L343.4,437.6 L344.6,439.9 L345.1,443.2 L346.2,445.8 L345.3,448.3 L343.4,450.2 L341.7,451.1 L340.1,449.6 L338.9,447.4 L338.8,444.7 L337.5,442.5 Z" stroke="#7ad151"/>
<path d="M343.4,460.0 L346.5,458.6 L349.8,458.4 L350.4,460.5 L351.3,462.9 L352.1,465.3 L353.1,467.7 L353.8,470.0 L352.9,472.3 L352.1,474.7 L351.2,477.1 L350.6,479.4 L350.1,480.9 L347.9,480.1 L345.5,478.3 L343.8,476.0 L343.9,473.3 L343.3,470.7 L343.6,468.0 L343.4,465.3 L342.6,462.7 Z" stroke="#7ad151"/>
<path d="M347.7,486.3 L349.9,484.4 L353.0,484.3 L354.3,486.6 L354.7,489.6 L355.6,492.3 L356.2,494.6 L355.7,497.3 L353.7,499.2 L351.5,500.5 L350.7,498.7 L350.1,496.1 L348.8,493.7 L348.2,491.2 L347.9,488.5 Z" stroke="#7ad151"/>
<path d="M355.3,504.7 L357.7,504.1 L360.2,503.6 L360.8,506.0 L361.1,509.0 L361.2,511.4 L359.5,513.5 L357.2,514.4 L355.8,512.6 L355.7,510.1 L355.3,507.4 Z" stroke="#7ad151"/>
<path d="M392.6,690.2 L394.7,688.8 L397.6,687.7 L400.2,686.0 L402.6,686.2 L405.1,686.8 L407.5,687.6 L409.9,688.5 L411.8,690.4 L410.4,692.5 L408.4,694.6 L407.1,697.3 L405.7,699.7 L403.2,699.9 L400.5,699.3 L397.6,699.5 L394.9,698.7 L394.3,695.9 L393.2,692.9 Z" stroke="#7ad151"/>
<path d="M415.4,699.9 L417.0,698.5 L419.0,696.8 L421.2,695.6 L423.3,694.0 L425.5,692.6 L428.2,692.0 L430.8,693.1 L433.0,695.0 L435.1,696.9 L437.9,697.9 L439.4,699.9 L438.6,702.2 L436.4,703.8 L434.8,705.8 L433.5,708.1 L431.4,709.7 L429.7,711.4 L426.9,712.0 L424.0,711.2 L421.2,710.2 L418.8,709.5 L416.9,707.6 L416.2,705.1 L416.0,702.4 Z" stroke="#7ad151"/>
<path d="M413.5,604.1 L415.6,603.0 L418.0,602.5 L418.9,604.7 L420.4,607.2 L421.7,609.8 L422.3,612.6 L423.3,615.2 L424.1,617.7 L425.1,620.1 L426.4,622.4 L427.0,624.9 L427.6,627.4 L427.7,630.0 L428.0,632.8 L426.9,635.5 L426.8,638.4 L425.7,640.7 L423.4,640.5 L420.7,640.1 L418.4,639.6 L417.4,637.5 L416.8,635.0 L416.0,632.5 L414.8,630.1 L414.1,627.6 L413.4,625.0 L413.7,622.4 L413.4,619.8 L413.1,617.1 L413.3,614.5 L413.8,611.9 L413.0,609.3 L413.5,606.5 Z" stroke="#22a884"/>
<circle cx="475" cy="569" r="2.6" fill="#2a788e" stroke="none"/>
<circle cx="488" cy="588" r="2.6" fill="#2a788e" stroke="none"/>
<circle cx="480" cy="597" r="2.2" fill="#2a788e" stroke="none"/>
<circle cx="466" cy="580" r="2.0" fill="#2a788e" stroke="none"/>
<path d="M395.2,494.3 L393.7,491.6 L391.9,489.1 L390.1,486.6 L388.5,484.0 L387.7,481.0 L386.8,478.1 L386.2,475.1 L385.3,472.2 L384.7,469.3 L383.9,466.3 L384.4,463.2 L384.6,460.0 L384.5,456.7 L384.8,453.5 L385.1,450.2 L385.0,446.9 L385.9,443.7 L386.7,440.5 L387.0,437.1 L388.0,433.9 L388.6,430.6 L389.3,427.3 L389.6,424.0 L391.0,421.2 L393.3,419.1 L395.2,416.6 L396.8,413.8 L398.9,411.2 L401.5,409.2 L404.3,407.3 L406.8,405.3 L409.9,404.2 L412.7,402.4 L415.4,400.6 L418.4,399.4 L421.3,398.0 L424.4,397.0 L427.2,395.6 L430.0,394.1 L432.8,392.9 L435.9,392.2 L439.9,393.0 L444.3,394.0 L448.8,393.9 L453.0,394.7 L457.4,395.1 L461.5,395.1 L464.6,396.0 L467.5,396.7 L469.7,398.4 L471.7,400.9 L473.1,403.8 L472.2,406.6 L471.5,409.6 L470.4,412.6 L468.3,415.3 L467.0,418.5 L467.9,423.1 L470.1,426.4 L473.0,428.5 L475.8,430.9 L477.9,433.7 L481.3,434.3 L484.7,435.4 L487.5,437.3 L490.5,438.5 L493.5,439.7 L496.4,441.6 L499.4,443.5 L502.2,445.5 L503.8,448.2 L506.3,450.2 L507.8,452.8 L508.7,455.8 L509.8,458.5 L509.9,461.6 L508.8,466.1 L507.6,470.0 L507.2,473.7 L507.1,477.3 L506.7,480.9 L506.5,484.7 L505.6,488.3 L505.0,492.0 L504.5,495.6 L503.1,499.0 L501.4,502.2 L500.0,505.5 L498.4,508.2 L496.2,510.3 L494.6,512.9 L492.4,515.1 L489.2,517.1 L486.3,519.6 L483.1,521.8 L479.7,523.0 L476.3,523.8 L473.1,525.1 L470.0,525.8 L466.9,526.0 L463.8,526.1 L460.8,527.1 L457.5,527.4 L454.2,527.3 L451.0,527.8 L447.8,528.0 L444.5,527.7 L441.3,527.4" stroke="#2a788e"/>
<path d="M451.6,458.6 L455.9,450.0 L464.6,442.7 L474.7,444.2 L483.3,447.0 L487.7,451.4 L480.5,450.0 L476.1,452.8 L474.7,458.6 L477.6,465.8 L476.1,473.0 L470.3,478.8 L461.7,478.8 L453.0,473.0 L450.1,464.4 Z" stroke="#2a788e"/>
<ellipse cx="465.3" cy="466.8" rx="10.3" ry="11" stroke="#22a884" stroke-width="2.4"/>
<circle cx="465.3" cy="466.2" r="8.9" stroke="#7ad151" stroke-width="1.6"/>
<circle cx="465.3" cy="466.2" r="7.6" stroke="#fde725" stroke-width="2.8"/>
</g>
<text transform="translate(400,507) rotate(38)" font-size="22" fill="#2a788e">−64</text>
<text transform="translate(512,446) rotate(72)" font-size="22" fill="#22a884">−54</text>
<text transform="translate(541,600) rotate(110)" font-size="20" fill="#7ad151">−42</text>
<text transform="translate(578,634) rotate(112)" font-size="20" fill="#7ad151">−42</text>
<text transform="translate(657,468) rotate(90)" font-size="20" fill="#fde725">−31</text>
<text transform="translate(416,745) rotate(-65)" font-size="20" fill="#fde725">−31</text>
<text transform="translate(440,790) rotate(-60)" font-size="20" fill="#fde725">−31</text>
<text transform="translate(502,690) rotate(-35)" font-size="20" fill="#fde725">−3</text>
</g>
<defs><clipPath id="trclip"><polygon points="999,133 1704,134.5 1692,828 1022.5,828"/></clipPath><linearGradient id="trbg" x1="0" y1="133" x2="0" y2="828" gradientUnits="userSpaceOnUse"><stop offset="0" stop-color="#1088ff"/><stop offset="0.2" stop-color="#1592ff"/><stop offset="0.32" stop-color="#35b8ff"/><stop offset="0.45" stop-color="#60e4ff"/><stop offset="0.6" stop-color="#70f4f0"/><stop offset="1" stop-color="#74fae8"/></linearGradient></defs>
<g clip-path="url(#trclip)">
<rect x="985" y="120" width="720" height="720" fill="url(#trbg)"/>
<g filter="url(#bl22)">
<ellipse cx="1120" cy="250" rx="140" ry="90" fill="#0a7af0"/>
<ellipse cx="1640" cy="330" rx="80" ry="150" fill="#1e9cff"/>
<ellipse cx="1030" cy="600" rx="40" ry="220" fill="#55ccff"/>
<ellipse cx="1660" cy="650" rx="50" ry="150" fill="#70f0ff"/>
<path d="M1345.9,326.8 L1371.8,329.0 L1415.0,335.4 L1449.5,329.0 L1471.0,335.4 L1479.8,350.5 L1492.7,376.5 L1518.6,393.7 L1535.9,419.7 L1544.6,445.6 L1540.2,480.1 L1548.9,514.7 L1570.5,532.0 L1583.4,557.9 L1583.4,596.8 L1574.8,631.3 L1561.8,661.6 L1544.6,696.1 L1535.9,722.0 L1523.0,748.0 L1510.0,773.9 L1492.7,791.1 L1466.8,799.8 L1432.2,808.4 L1397.7,817.1 L1363.1,812.7 L1328.6,799.8 L1294.0,786.8 L1259.5,773.9 L1224.9,756.6 L1190.3,739.3 L1164.4,713.4 L1155.8,687.5 L1164.4,661.6 L1186.0,635.6 L1199.0,609.7 L1199.0,575.2 L1190.3,532.0 L1177.4,497.4 L1164.4,467.2 L1164.4,445.6 L1181.7,428.3 L1199.0,402.4 L1224.9,376.5 L1250.8,350.5 L1276.7,341.9 L1311.3,333.3 Z" fill="#88f488" stroke="#84f490" stroke-width="110" stroke-linejoin="round"/>
<ellipse cx="1330" cy="790" rx="170" ry="60" fill="#88f080"/>
<ellipse cx="1290" cy="320" rx="120" ry="40" fill="#78f0b0"/>
</g>
<g filter="url(#bl10)">
<path d="M1345.9,326.8 L1371.8,329.0 L1415.0,335.4 L1449.5,329.0 L1471.0,335.4 L1479.8,350.5 L1492.7,376.5 L1518.6,393.7 L1535.9,419.7 L1544.6,445.6 L1540.2,480.1 L1548.9,514.7 L1570.5,532.0 L1583.4,557.9 L1583.4,596.8 L1574.8,631.3 L1561.8,661.6 L1544.6,696.1 L1535.9,722.0 L1523.0,748.0 L1510.0,773.9 L1492.7,791.1 L1466.8,799.8 L1432.2,808.4 L1397.7,817.1 L1363.1,812.7 L1328.6,799.8 L1294.0,786.8 L1259.5,773.9 L1224.9,756.6 L1190.3,739.3 L1164.4,713.4 L1155.8,687.5 L1164.4,661.6 L1186.0,635.6 L1199.0,609.7 L1199.0,575.2 L1190.3,532.0 L1177.4,497.4 L1164.4,467.2 L1164.4,445.6 L1181.7,428.3 L1199.0,402.4 L1224.9,376.5 L1250.8,350.5 L1276.7,341.9 L1311.3,333.3 Z" fill="#f6e070" stroke="#c8f078" stroke-width="10" stroke-linejoin="round"/>
</g>
<g filter="url(#bl10)" opacity="0.75">
<ellipse cx="1300" cy="790" rx="110" ry="30" fill="#a8f07c"/>
<ellipse cx="1530" cy="700" rx="40" ry="60" fill="#b0f07c"/>
<ellipse cx="1180" cy="560" rx="25" ry="60" fill="#b8f07c"/>
</g>
<g filter="url(#bl4)" stroke="#f0ec78" stroke-width="7" stroke-linecap="round" opacity="0.8" fill="none">
<path d="M1200,700 L1140,760"/><path d="M1215,720 L1160,800"/><path d="M1240,740 L1200,815"/><path d="M1180,690 L1120,730"/><path d="M1500,760 L1450,810"/><path d="M1520,730 L1470,790"/>
</g>
<g filter="url(#bl4)">
<path d="M1232.5,737.9 L1234.5,731.9 L1242.5,725.9 L1248.5,727.9 L1246.5,735.9 L1238.5,739.9 Z" fill="#ffd060"/>
<path d="M1272.4,717.9 L1274.4,723.9 L1264.4,737.9 L1258.4,747.9 L1254.5,755.9 L1251.5,751.9 L1258.4,739.9 L1266.4,727.9 Z" fill="#ffd060"/>
<path d="M1290.4,721.9 L1294.4,727.9 L1286.4,743.9 L1282.4,739.9 L1286.4,729.9 Z" fill="#ffd060"/>
<path d="M1298.4,737.9 L1304.4,739.9 L1306.4,751.9 L1302.4,763.9 L1306.4,771.9 L1302.4,779.9 L1296.4,775.9 L1294.4,763.9 L1292.4,751.9 Z" fill="#ffd060"/>
<path d="M1306.4,767.9 L1314.4,769.9 L1318.4,779.9 L1314.4,791.9 L1316.4,799.9 L1310.4,799.9 L1306.4,789.9 L1308.4,779.9 Z" fill="#ffd060"/>
<path d="M1314.4,779.9 L1326.4,773.9 L1334.4,775.9 L1340.4,779.9 L1334.4,787.9 L1326.4,795.9 L1318.4,799.9 Z" fill="#ffd060"/>
<path d="M1326.4,729.9 L1334.4,729.9 L1334.4,739.9 L1328.4,751.9 L1324.4,751.9 L1326.4,739.9 Z" fill="#ffd060"/>
<path d="M1358.4,753.9 L1368.4,751.9 L1378.4,755.9 L1384.4,751.9 L1384.4,763.9 L1380.4,775.9 L1374.4,779.9 L1366.4,775.9 L1360.4,771.9 L1358.4,763.9 Z" fill="#ffd060"/>
<path d="M1392.4,747.9 L1398.4,745.9 L1408.4,751.9 L1414.4,755.9 L1420.4,759.9 L1416.4,765.9 L1420.4,775.9 L1414.4,781.9 L1406.4,779.9 L1398.4,775.9 L1392.4,771.9 L1394.4,759.9 Z" fill="#ffd060"/>
<path d="M1342.4,711.9 L1350.4,711.9 L1358.4,719.9 L1366.4,727.9 L1374.4,731.9 L1380.4,727.9 L1386.4,719.9 L1390.4,711.9 L1394.4,719.9 L1386.4,731.9 L1378.4,737.9 L1366.4,735.9 L1354.4,731.9 L1346.4,729.9 Z" fill="#ffd060"/>
<path d="M1378.4,739.9 L1384.4,739.9 L1386.4,747.9 L1382.4,751.9 L1378.4,747.9 Z" fill="#ffd060"/>
<path d="M1264.4,773.9 L1268.4,773.9 L1270.4,781.9 L1266.4,783.9 L1264.4,779.9 Z" fill="#ffd060"/>
<path d="M1512.3,765.9 L1516.3,765.9 L1516.3,771.9 L1512.3,771.9 Z" fill="#ffd060"/>
<path d="M1440.7,396.9 L1445.3,398.5 L1448.3,407.7 L1451.4,420.0 L1452.2,427.7 L1449.1,427.7 L1445.3,416.9 L1442.2,407.7 Z" fill="#ffd060"/>
<path d="M1460.7,427.7 L1465.3,429.2 L1466.8,435.4 L1463.7,440.0 L1459.1,438.5 Z" fill="#ffd060"/>
<path d="M1463.7,441.5 L1468.3,441.5 L1468.3,447.7 L1463.7,448.5 Z" fill="#ffd060"/>
<path d="M1466.8,447.7 L1477.6,447.7 L1479.1,455.4 L1474.5,458.5 L1468.3,456.9 Z" fill="#ffd060"/>
<path d="M1465.3,410.8 L1471.4,413.8 L1477.6,416.9 L1481.4,420.0 L1477.6,423.1 L1471.4,423.1 L1466.8,421.5 Z" fill="#ffd060"/>
<path d="M1486.8,404.6 L1493.0,403.1 L1493.7,406.2 L1488.3,408.5 Z" fill="#ffd060"/>
<path d="M1508.3,393.8 L1514.5,394.6 L1511.4,404.6 L1502.2,407.7 L1497.6,418.5 L1496.0,416.9 L1502.2,404.6 Z" fill="#ffd060"/>
<path d="M1520.7,407.7 L1525.3,408.5 L1525.3,412.3 L1520.7,412.3 Z" fill="#ffd060"/>
<path d="M1516.0,418.5 L1522.2,420.0 L1525.3,427.7 L1520.7,427.7 L1517.6,423.1 Z" fill="#ffd060"/>
<path d="M1523.7,430.8 L1531.4,432.3 L1537.6,441.5 L1533.0,443.1 L1526.8,438.5 Z" fill="#ffd060"/>
<path d="M1496.0,443.1 L1502.2,444.6 L1505.3,452.3 L1511.4,460.0 L1514.5,469.2 L1520.7,478.5 L1528.3,484.6 L1533.0,481.5 L1526.8,472.3 L1523.7,463.1 L1522.2,450.8 L1526.8,447.7 L1533.0,453.8 L1537.6,463.1 L1542.2,472.3 L1542.2,484.6 L1539.1,493.8 L1533.0,500.0 L1526.8,506.2 L1520.7,512.3 L1516.0,515.4 L1511.4,509.2 L1508.3,500.0 L1502.2,496.9 L1493.0,493.8 L1486.8,484.6 L1483.7,473.8 L1486.8,469.2 L1493.0,475.4 L1499.1,481.5 L1502.2,475.4 L1500.7,463.1 L1497.6,453.8 Z" fill="#ffd060"/>
<path d="M1460.7,326.2 L1468.3,327.7 L1474.5,330.8 L1471.4,335.4 L1463.7,332.3 Z" fill="#ffd060"/>
<path d="M1443.7,330.8 L1448.3,330.8 L1448.3,332.3 L1443.7,332.6 Z" fill="#ffd060"/>
<path d="M1436.0,372.3 L1440.7,370.8 L1448.3,372.3 L1453.0,375.4 L1449.9,381.5 L1440.7,383.1 L1434.5,381.5 Z" fill="#ffd060"/>
<path d="M1607.5,400.0 L1612.5,401.0 L1614.5,410.0 L1609.5,411.0 Z" fill="#ffd060"/>
<path d="M1657.5,460.0 L1662.5,459.0 L1663.5,470.0 L1658.5,471.0 Z" fill="#ffd060"/>
<path d="M1570.5,636.0 L1578.5,633.0 L1580.5,645.0 L1572.5,646.0 Z" fill="#ffd060"/>
<path d="M1512.5,741.0 L1519.5,738.0 L1522.5,748.0 L1515.5,751.0 Z" fill="#ffd060"/>
<path d="M1539.5,600.0 L1564.5,597.0 L1568.5,604.0 L1542.5,607.0 Z" fill="#ffd060"/>
<path d="M1539.5,570.0 L1549.5,566.0 L1554.5,578.0 L1544.5,582.0 Z" fill="#ffd060"/>
<path d="M1644.5,563.0 L1650.5,562.0 L1651.5,568.0 L1645.5,569.0 Z" fill="#ffd060"/>
<path d="M1188.5,465.0 L1194.5,462.0 L1200.5,466.0 L1198.5,474.0 L1191.5,474.0 Z" fill="#ffd060"/>
<path d="M1192.5,480.0 L1198.5,478.0 L1201.5,488.0 L1199.5,498.0 L1193.5,494.0 Z" fill="#ffd060"/>
<path d="M1212.5,410.0 L1219.5,408.0 L1223.5,416.0 L1217.5,421.0 Z" fill="#ffd060"/>
<path d="M1196.5,520.0 L1202.5,517.0 L1205.5,528.0 L1200.5,535.0 L1195.5,530.0 Z" fill="#ffd060"/>
<path d="M1556.5,548.0 L1564.5,547.0 L1569.5,556.0 L1564.5,562.0 L1557.5,558.0 Z" fill="#ffd060"/>
<path d="M1541.5,567.0 L1550.5,566.0 L1554.5,573.0 L1546.5,578.0 Z" fill="#ffd060"/>
<path d="M1567.5,577.0 L1574.5,576.0 L1576.5,581.0 L1569.5,582.0 Z" fill="#ffd060"/>
<path d="M1242.2,367.8 L1285.4,359.2 L1328.6,363.5 L1371.8,367.8 L1406.3,380.8 L1432.2,402.4 L1449.5,436.9 L1466.8,471.5 L1479.8,514.7 L1488.5,557.9 L1492.7,601.1 L1501.4,644.3 L1492.7,678.8 L1458.2,696.1 L1432.2,713.4 L1397.7,713.4 L1371.8,696.1 L1337.2,704.8 L1302.7,717.7 L1268.1,713.4 L1233.5,696.1 L1216.3,661.6 L1212.0,618.4 L1212.0,575.2 L1207.6,532.0 L1203.3,488.8 L1212.0,445.6 L1224.9,402.4 Z" fill="#ffa638"/>
</g>
<g filter="url(#bl10)">
<path d="M1445,470 Q1480,560 1425,660" fill="none" stroke="#ffd878" stroke-width="24"/>
<path d="M1235,520 Q1250,610 1300,650" fill="none" stroke="#ffb850" stroke-width="20"/>
<ellipse cx="1355" cy="590" rx="45" ry="24" fill="#d86818"/>
<ellipse cx="1455" cy="660" rx="32" ry="32" fill="#e07018"/>
<ellipse cx="1245" cy="700" rx="25" ry="18" fill="#e88020"/>
<ellipse cx="1430" cy="700" rx="22" ry="18" fill="#e88020"/>
<ellipse cx="1300" cy="600" rx="40" ry="40" fill="#f89030"/>
<path d="M1250.0,400.0 L1280.0,375.0 L1320.0,368.0 L1360.0,372.0 L1385.0,385.0 L1400.0,410.0 L1405.0,440.0 L1398.0,480.0 L1385.0,510.0 L1360.0,528.0 L1320.0,532.0 L1280.0,522.0 L1255.0,500.0 L1242.0,470.0 L1240.0,435.0 Z" fill="#c04400" stroke="#d86010" stroke-width="16"/>
</g>
<g filter="url(#bl4)">
<ellipse cx="1322" cy="452" rx="70" ry="66" fill="#9a1800"/>
<ellipse cx="1328" cy="458" rx="52" ry="50" fill="#800200"/>
</g>
<g filter="url(#bl4)" fill="none" stroke="#b03400" stroke-width="5" opacity="0.8">
<path d="M1339,482 C1300,490 1292,440 1330,425 C1372,413 1388,470 1360,502 C1330,532 1276,512 1266,466 C1258,420 1300,392 1340,392"/>
</g>
<g filter="url(#bl4)" opacity="0.85">
<ellipse transform="rotate(-30 1500 400)" cx="1500" cy="400" rx="10" ry="26" fill="#ffb848"/>
<ellipse transform="rotate(-20 1525 440)" cx="1525" cy="440" rx="9" ry="30" fill="#ffc050"/>
<ellipse transform="rotate(-10 1545 480)" cx="1545" cy="480" rx="8" ry="26" fill="#ffb040"/>
<ellipse transform="rotate(0 1560 520)" cx="1560" cy="520" rx="10" ry="24" fill="#ffc858"/>
<ellipse transform="rotate(10 1540 560)" cx="1540" cy="560" rx="8" ry="22" fill="#ffb848"/>
<ellipse transform="rotate(15 1575 600)" cx="1575" cy="600" rx="8" ry="28" fill="#ffc050"/>
<ellipse transform="rotate(-25 1500 470)" cx="1500" cy="470" rx="7" ry="20" fill="#ffa838"/>
<ellipse transform="rotate(0 1470 380)" cx="1470" cy="380" rx="12" ry="10" fill="#ffb040"/>
<ellipse transform="rotate(20 1580 650)" cx="1580" cy="650" rx="8" ry="20" fill="#f8d060"/>
</g>
<g filter="url(#bl4)">
<path d="M1300,336 L1360,300 L1425,272" fill="none" stroke="#90f0a0" stroke-width="4" opacity="0.8"/>
<ellipse cx="1225" cy="275" rx="14" ry="10" fill="#80f0d0" opacity="0.8"/>
<ellipse cx="1275" cy="255" rx="12" ry="10" fill="#80f0d0" opacity="0.8"/>
<ellipse cx="1205" cy="520" rx="8" ry="5" fill="#a0f080" opacity="0.9"/>
</g>
<g filter="url(#bl4)" opacity="0.9">
<ellipse cx="1238" cy="695" rx="13" ry="10" fill="#e87818"/>
<ellipse cx="1280" cy="735" rx="10" ry="8" fill="#f08828"/>
<ellipse cx="1240" cy="765" rx="8" ry="6" fill="#f09030"/>
<ellipse cx="1345" cy="745" rx="9" ry="12" fill="#f09838"/>
<ellipse cx="1390" cy="790" rx="10" ry="10" fill="#f8a840"/>
<ellipse cx="1300" cy="790" rx="8" ry="10" fill="#f8b048"/>
<ellipse cx="1560" cy="670" rx="8" ry="10" fill="#f8b848"/>
<ellipse cx="1500" cy="730" rx="10" ry="8" fill="#f8c050"/>
</g>
<rect x="995" y="130" width="712" height="700" filter="url(#tex)" opacity="0.14"/>
<rect x="995" y="130" width="712" height="700" filter="url(#tex2)" opacity="0.10"/>
<circle cx="1339.5" cy="465.5" r="9" fill="#70f8f0"/>
</g>
<rect x="983.5" y="101.5" width="728" height="728" fill="none" stroke="#000" stroke-width="3"/>
<g id="GRIDL">
<line x1="226" y1="103" x2="226" y2="828" stroke="#fff" stroke-width="2" stroke-dasharray="2 3.5"/>
<line x1="371.5" y1="103" x2="371.5" y2="828" stroke="#fff" stroke-width="2" stroke-dasharray="2 3.5"/>
<line x1="517" y1="103" x2="517" y2="828" stroke="#fff" stroke-width="2" stroke-dasharray="2 3.5"/>
<line x1="663" y1="103" x2="663" y2="828" stroke="#fff" stroke-width="2" stroke-dasharray="2 3.5"/>
<line x1="808" y1="103" x2="808" y2="828" stroke="#fff" stroke-width="2" stroke-dasharray="2 3.5"/>
<line x1="112" y1="238.6" x2="835" y2="238.6" stroke="#fff" stroke-width="2" stroke-dasharray="2 3.5"/>
<line x1="112" y1="384" x2="835" y2="384" stroke="#fff" stroke-width="2" stroke-dasharray="2 3.5"/>
<line x1="112" y1="530" x2="835" y2="530" stroke="#fff" stroke-width="2" stroke-dasharray="2 3.5"/>
<line x1="112" y1="675.5" x2="835" y2="675.5" stroke="#fff" stroke-width="2" stroke-dasharray="2 3.5"/>
<line x1="112" y1="821" x2="835" y2="821" stroke="#fff" stroke-width="2" stroke-dasharray="2 3.5"/>
</g>
<polyline points="112,346 300,414 465,473 520,493 560,505 612,524 650,537 700,545 838,546" fill="none" stroke="#0000ff" stroke-width="3" stroke-dasharray="3 4.5"/>
<path d="M531.4,496.9 L539.0,504.5 M531.4,504.5 L539.0,496.9" stroke="#00bfbf" stroke-width="2.6"/>
<path d="M541.7,500.3 L549.3,507.9 M541.7,507.9 L549.3,500.3" stroke="#00bfbf" stroke-width="2.6"/>
<path d="M552.0,503.7 L559.6,511.3 M552.0,511.3 L559.6,503.7" stroke="#00bfbf" stroke-width="2.6"/>
<path d="M565.8,508.9 L573.4,516.5 M565.8,516.5 L573.4,508.9" stroke="#00bfbf" stroke-width="2.6"/>
<path d="M577.8,512.3 L585.4,519.9 M577.8,519.9 L585.4,512.3" stroke="#00bfbf" stroke-width="2.6"/>
<path d="M589.9,515.8 L597.5,523.4 M589.9,523.4 L597.5,515.8" stroke="#00bfbf" stroke-width="2.6"/>
<path d="M601.9,513.2 L609.5,520.8 M601.9,520.8 L609.5,513.2" stroke="#00bfbf" stroke-width="2.6"/>
<path d="M614.0,517.5 L621.6,525.1 M614.0,525.1 L621.6,517.5" stroke="#00bfbf" stroke-width="2.6"/>
<path d="M620.9,519.2 L628.5,526.8 M620.9,526.8 L628.5,519.2" stroke="#00bfbf" stroke-width="2.6"/>
<path d="M629.5,526.1 L637.1,533.7 M629.5,533.7 L637.1,526.1" stroke="#00bfbf" stroke-width="2.6"/>
<path d="M638.1,529.6 L645.7,537.2 M638.1,537.2 L645.7,529.6" stroke="#00bfbf" stroke-width="2.6"/>
<path d="M646.7,533.0 L654.3,540.6 M646.7,540.6 L654.3,533.0" stroke="#00bfbf" stroke-width="2.6"/>
<path d="M655.3,538.2 L662.9,545.8 M655.3,545.8 L662.9,538.2" stroke="#00bfbf" stroke-width="2.6"/>
<path d="M663.9,543.3 L671.5,550.9 M663.9,550.9 L671.5,543.3" stroke="#00bfbf" stroke-width="2.6"/>
<path d="M689.7,553.7 L697.3,561.3 M689.7,561.3 L697.3,553.7" stroke="#00bfbf" stroke-width="2.6"/>
<path d="M698.3,551.9 L705.9,559.5 M698.3,559.5 L705.9,551.9" stroke="#00bfbf" stroke-width="2.6"/>
<path d="M706.9,521.0 L714.5,528.6 M706.9,528.6 L714.5,521.0" stroke="#00bfbf" stroke-width="2.6"/>
<path d="M715.5,524.4 L723.1,532.0 M715.5,532.0 L723.1,524.4" stroke="#00bfbf" stroke-width="2.6"/>
<path d="M724.1,526.1 L731.7,533.7 M724.1,533.7 L731.7,526.1" stroke="#00bfbf" stroke-width="2.6"/>
<path d="M732.7,527.8 L740.3,535.4 M732.7,535.4 L740.3,527.8" stroke="#00bfbf" stroke-width="2.6"/>
<path d="M741.3,529.6 L748.9,537.2 M741.3,537.2 L748.9,529.6" stroke="#00bfbf" stroke-width="2.6"/>
<path d="M750.0,531.3 L757.6,538.9 M750.0,538.9 L757.6,531.3" stroke="#00bfbf" stroke-width="2.6"/>
<path d="M760.3,541.6 L767.9,549.2 M760.3,549.2 L767.9,541.6" stroke="#00bfbf" stroke-width="2.6"/>
<path d="M770.6,545.0 L778.2,552.6 M770.6,552.6 L778.2,545.0" stroke="#00bfbf" stroke-width="2.6"/>
<path d="M780.9,538.2 L788.5,545.8 M780.9,545.8 L788.5,538.2" stroke="#00bfbf" stroke-width="2.6"/>
<path d="M791.3,543.3 L798.9,550.9 M791.3,550.9 L798.9,543.3" stroke="#00bfbf" stroke-width="2.6"/>
<path d="M801.6,538.2 L809.2,545.8 M801.6,545.8 L809.2,538.2" stroke="#00bfbf" stroke-width="2.6"/>
<path d="M811.9,543.3 L819.5,550.9 M811.9,550.9 L819.5,543.3" stroke="#00bfbf" stroke-width="2.6"/>
<path d="M822.2,538.2 L829.8,545.8 M822.2,545.8 L829.8,538.2" stroke="#00bfbf" stroke-width="2.6"/>
<path d="M829.1,543.3 L836.7,550.9 M829.1,550.9 L836.7,543.3" stroke="#00bfbf" stroke-width="2.6"/>
<path d="M732.7,557.1 L740.3,564.7 M732.7,564.7 L740.3,557.1" stroke="#00bfbf" stroke-width="2.6"/>
<path d="M700.0,576.0 L707.6,583.6 M700.0,583.6 L707.6,576.0" stroke="#00bfbf" stroke-width="2.6"/>
<path d="M677.7,569.1 L685.3,576.7 M677.7,576.7 L685.3,569.1" stroke="#00bfbf" stroke-width="2.6"/>
<path d="M755.1,543.3 L762.7,550.9 M755.1,550.9 L762.7,543.3" stroke="#00bfbf" stroke-width="2.6"/>
<path d="M765.4,538.2 L773.0,545.8 M765.4,545.8 L773.0,538.2" stroke="#00bfbf" stroke-width="2.6"/>
<path d="M775.8,543.3 L783.4,550.9 M775.8,550.9 L783.4,543.3" stroke="#00bfbf" stroke-width="2.6"/>
<path d="M786.1,538.2 L793.7,545.8 M786.1,545.8 L793.7,538.2" stroke="#00bfbf" stroke-width="2.6"/>
<path d="M796.4,543.3 L804.0,550.9 M796.4,550.9 L804.0,543.3" stroke="#00bfbf" stroke-width="2.6"/>
<path d="M806.8,538.2 L814.4,545.8 M806.8,545.8 L814.4,538.2" stroke="#00bfbf" stroke-width="2.6"/>
<path d="M817.1,543.3 L824.7,550.9 M817.1,550.9 L824.7,543.3" stroke="#00bfbf" stroke-width="2.6"/>
<path d="M825.7,538.2 L833.3,545.8 M825.7,545.8 L833.3,538.2" stroke="#00bfbf" stroke-width="2.6"/>
<path d="M608.8,517.5 L616.4,525.1 M608.8,525.1 L616.4,517.5" stroke="#00bfbf" stroke-width="2.6"/>
<path d="M626.0,522.7 L633.6,530.3 M626.0,530.3 L633.6,522.7" stroke="#00bfbf" stroke-width="2.6"/>
<path d="M516.2,485.2 L523.8,492.8 M516.2,492.8 L523.8,485.2" stroke="#00bfbf" stroke-width="2.6"/>
<path d="M524.2,488.2 L531.8,495.8 M524.2,495.8 L531.8,488.2" stroke="#00bfbf" stroke-width="2.6"/>
<path d="M501.2,480.2 L508.8,487.8 M501.2,487.8 L508.8,480.2" stroke="#00bfbf" stroke-width="2.6"/>
<path d="M536.2,493.2 L543.8,500.8 M536.2,500.8 L543.8,493.2" stroke="#00bfbf" stroke-width="2.6"/>
<rect x="508" y="484" width="8" height="8" fill="#bf00bf"/>
<rect x="514" y="486" width="8" height="8" fill="#bf00bf"/>
<rect x="545" y="496" width="8" height="8" fill="#bf00bf"/>
<rect x="552" y="498" width="8" height="8" fill="#bf00bf"/>
<rect x="588" y="509.6" width="8" height="8" fill="#bf00bf"/>
<rect x="666" y="543.5" width="8" height="8" fill="#bf00bf"/>
<rect x="699" y="546" width="8" height="8" fill="#bf00bf"/>
<rect x="708" y="547" width="8" height="8" fill="#bf00bf"/>
<rect x="714" y="547" width="8" height="8" fill="#bf00bf"/>
<rect x="761" y="541.4" width="8" height="8" fill="#bf00bf"/>
<polyline points="465.3,466.2 474.4,470.9 499.5,477.2 518.3,485.0 530.0,491.0 547.2,501.5 559.3,505.0 573.0,516.1 581.6,517.0 590.2,519.6 602.3,521.3 614.3,519.6 619.5,524.7 626.4,528.2 633.3,531.6 647.0,535.1 657.4,536.8 667.7,543.7 672.9,547.1 683.2,569.5 702.1,578.1 696.9,552.3 712.4,554.0 736.5,560.0 714.2,545.4 714.2,526.5 719.3,535.1 752.0,538.5 762.4,540.2 805.4,542.0 838.0,542.0" fill="none" stroke="#008000" stroke-width="3" stroke-linejoin="round"/>
<polyline points="502.6,478.7 567.9,507.5 612.6,530.8 677.2,544.5 735.7,544.5 795.0,545.4 838.0,544.5" fill="none" stroke="#0000ff" stroke-width="2.6"/>
<circle cx="502.6" cy="478.7" r="4.5" fill="#0000ff"/>
<circle cx="567.9" cy="507.5" r="4.5" fill="#0000ff"/>
<circle cx="612.6" cy="530.8" r="4.5" fill="#0000ff"/>
<circle cx="677.2" cy="544.5" r="4.5" fill="#0000ff"/>
<circle cx="735.7" cy="544.5" r="4.5" fill="#0000ff"/>
<circle cx="795" cy="545.4" r="4.5" fill="#0000ff"/>
<polyline points="471.3,464.6 493.2,474.0 499.5,483.4 518.3,488.1 530.0,491.2 561.0,505.0 536.9,508.4 550.0,511.0 560.0,514.0 571.3,519.6 590.2,524.7 612.6,529.9 636.7,535.1 647.0,536.8 647.0,544.5 667.7,544.5 670.3,525.6 684.9,527.3 686.0,531.0 690.0,530.0 693.5,529.9 702.1,531.6 703.0,535.0 706.0,532.0 719.3,533.4 736.5,535.1 753.7,535.1 763.2,536.8 760.6,544.5 788.2,544.5 838.0,544.5" fill="none" stroke="#ff0000" stroke-width="3.2" stroke-linejoin="round"/>
<path d="M475.0,482.3 L486.0,493.3 M475.0,493.3 L486.0,482.3" stroke="#ff0000" stroke-width="3.2"/>
<rect x="443.2" y="108.7" width="386.1" height="188.5" rx="4" fill="#fff" fill-opacity="0.8" stroke="#d6d6d6" stroke-opacity="0.8" stroke-width="1"/>
<text x="494.4" y="127.8" font-size="15.62">AMSU Locations [NOAAMC/1914Z 85 972]</text>
<text x="494.4" y="150.6" font-size="15.62">ARCHER Locations [2229Z]</text>
<text x="494.4" y="173.3" font-size="15.62">SATCON Locations [0040Z 117 954]</text>
<text x="494.4" y="196.1" font-size="15.62">ADT Tracks [0210Z 122.2 944.7]</text>
<text x="494.4" y="218.8" font-size="15.62">JTWC/NHC Forecast [05/1800Z]</text>
<text x="494.4" y="241.6" font-size="15.62">JTWC/NHC Tracks [06/0000Z]</text>
<text x="494.4" y="264.3" font-size="15.62">MESOSCALE/TARGET Location</text>
<text x="494.4" y="287.1" font-size="15.62">Floater Locater</text>
<rect x="461.7" y="117.2" width="10" height="10" fill="#bf00bf"/>
<rect x="461.7" y="140.6" width="10" height="10" fill="#bf00bf"/>
<path d="M462.2,163.3 L471.2,172.3 M462.2,172.3 L471.2,163.3" stroke="#00bfbf" stroke-width="3"/>
<line x1="449" y1="190.4" x2="484" y2="190.4" stroke="#008000" stroke-width="3"/>
<line x1="449" y1="213.8" x2="484" y2="213.8" stroke="#0000ff" stroke-width="3" stroke-dasharray="3 4.7"/>
<line x1="449" y1="236" x2="484" y2="236" stroke="#0000ff" stroke-width="3"/>
<circle cx="466.7" cy="236" r="4.2" fill="#0000ff"/>
<path d="M461.2,253.8 L472.2,264.8 M461.2,264.8 L472.2,253.8" stroke="#ff0000" stroke-width="3.4"/>
<line x1="449" y1="282.2" x2="484" y2="282.2" stroke="#ff0000" stroke-width="3"/>
<rect x="106.2" y="803.3" width="313.4" height="27.7" rx="4" fill="#000"/>
<text x="110.8" y="822.2" font-size="17.5" font-weight="bold" fill="#fff">Copyright © 2020-2025 Dapiya</text>
<g id="GRIDR">
<line x1="1101" y1="103" x2="1101" y2="828" stroke="#fff" stroke-width="2" stroke-dasharray="2 3.5"/>
<line x1="1246.5" y1="103" x2="1246.5" y2="828" stroke="#fff" stroke-width="2" stroke-dasharray="2 3.5"/>
<line x1="1392" y1="103" x2="1392" y2="828" stroke="#fff" stroke-width="2" stroke-dasharray="2 3.5"/>
<line x1="1538" y1="103" x2="1538" y2="828" stroke="#fff" stroke-width="2" stroke-dasharray="2 3.5"/>
<line x1="1683" y1="103" x2="1683" y2="828" stroke="#fff" stroke-width="2" stroke-dasharray="2 3.5"/>
<line x1="987" y1="238.6" x2="1710" y2="238.6" stroke="#fff" stroke-width="2" stroke-dasharray="2 3.5"/>
<line x1="987" y1="384" x2="1710" y2="384" stroke="#fff" stroke-width="2" stroke-dasharray="2 3.5"/>
<line x1="987" y1="530" x2="1710" y2="530" stroke="#fff" stroke-width="2" stroke-dasharray="2 3.5"/>
<line x1="987" y1="675.5" x2="1710" y2="675.5" stroke="#fff" stroke-width="2" stroke-dasharray="2 3.5"/>
<line x1="987" y1="821" x2="1710" y2="821" stroke="#fff" stroke-width="2" stroke-dasharray="2 3.5"/>
</g>
<text x="226.0" y="851.1" font-size="13.6" text-anchor="middle" font-weight="normal" fill="#000" >142°W</text>
<text x="371.5" y="851.1" font-size="13.6" text-anchor="middle" font-weight="normal" fill="#000" >140°W</text>
<text x="517.0" y="851.1" font-size="13.6" text-anchor="middle" font-weight="normal" fill="#000" >138°W</text>
<text x="663.0" y="851.1" font-size="13.6" text-anchor="middle" font-weight="normal" fill="#000" >136°W</text>
<text x="808.0" y="851.1" font-size="13.6" text-anchor="middle" font-weight="normal" fill="#000" >134°W</text>
<text x="100.7" y="242.4" font-size="13.6" text-anchor="end" font-weight="normal" fill="#000" >18°N</text>
<text x="100.7" y="387.8" font-size="13.6" text-anchor="end" font-weight="normal" fill="#000" >16°N</text>
<text x="100.7" y="533.8" font-size="13.6" text-anchor="end" font-weight="normal" fill="#000" >14°N</text>
<text x="100.7" y="679.3" font-size="13.6" text-anchor="end" font-weight="normal" fill="#000" >12°N</text>
<text x="100.7" y="824.8" font-size="13.6" text-anchor="end" font-weight="normal" fill="#000" >10°N</text>
<text x="1101.0" y="851.1" font-size="13.6" text-anchor="middle" font-weight="normal" fill="#000" >142°W</text>
<text x="1246.5" y="851.1" font-size="13.6" text-anchor="middle" font-weight="normal" fill="#000" >140°W</text>
<text x="1392.0" y="851.1" font-size="13.6" text-anchor="middle" font-weight="normal" fill="#000" >138°W</text>
<text x="1538.0" y="851.1" font-size="13.6" text-anchor="middle" font-weight="normal" fill="#000" >136°W</text>
<text x="1683.0" y="851.1" font-size="13.6" text-anchor="middle" font-weight="normal" fill="#000" >134°W</text>
<text x="975.7" y="242.4" font-size="13.6" text-anchor="end" font-weight="normal" fill="#000" >18°N</text>
<text x="975.7" y="387.8" font-size="13.6" text-anchor="end" font-weight="normal" fill="#000" >16°N</text>
<text x="975.7" y="533.8" font-size="13.6" text-anchor="end" font-weight="normal" fill="#000" >14°N</text>
<text x="975.7" y="679.3" font-size="13.6" text-anchor="end" font-weight="normal" fill="#000" >12°N</text>
<text x="975.7" y="824.8" font-size="13.6" text-anchor="end" font-weight="normal" fill="#000" >10°N</text>
<defs><linearGradient id="cbL" x1="0" y1="0" x2="0" y2="1"><stop offset="0" stop-color="#000"/><stop offset="1" stop-color="#fff"/></linearGradient></defs>
<rect x="843.5" y="101" width="15" height="728.5" fill="url(#cbL)" stroke="#000" stroke-width="1"/>
<text x="866.6" y="162.0" font-size="16.5" text-anchor="start" font-weight="normal" fill="#000" >40</text>
<text x="866.6" y="216.0" font-size="16.5" text-anchor="start" font-weight="normal" fill="#000" >30</text>
<text x="866.6" y="270.0" font-size="16.5" text-anchor="start" font-weight="normal" fill="#000" >20</text>
<text x="866.6" y="323.9" font-size="16.5" text-anchor="start" font-weight="normal" fill="#000" >10</text>
<text x="866.6" y="377.9" font-size="16.5" text-anchor="start" font-weight="normal" fill="#000" >0</text>
<text x="866.6" y="431.9" font-size="16.5" text-anchor="start" font-weight="normal" fill="#000" >−10</text>
<text x="866.6" y="485.9" font-size="16.5" text-anchor="start" font-weight="normal" fill="#000" >−20</text>
<text x="866.6" y="539.9" font-size="16.5" text-anchor="start" font-weight="normal" fill="#000" >−30</text>
<text x="866.6" y="593.8" font-size="16.5" text-anchor="start" font-weight="normal" fill="#000" >−40</text>
<text x="866.6" y="647.8" font-size="16.5" text-anchor="start" font-weight="normal" fill="#000" >−50</text>
<text x="866.6" y="701.8" font-size="16.5" text-anchor="start" font-weight="normal" fill="#000" >−60</text>
<text x="866.6" y="755.8" font-size="16.5" text-anchor="start" font-weight="normal" fill="#000" >−70</text>
<text x="866.6" y="809.8" font-size="16.5" text-anchor="start" font-weight="normal" fill="#000" >−80</text>
<text x="852.5" y="93.5" font-size="16.5" text-anchor="start" font-weight="normal" fill="#000" >°C</text>
<defs><linearGradient id="cbR" x1="0" y1="0" x2="0" y2="1"><stop offset="0.0000" stop-color="#ffffff"/><stop offset="0.3333" stop-color="#ffffff"/><stop offset="0.3333" stop-color="#6b1a6b"/><stop offset="0.3667" stop-color="#4a3aa0"/><stop offset="0.4000" stop-color="#2a5cd0"/><stop offset="0.4200" stop-color="#0a80ff"/><stop offset="0.4667" stop-color="#3aa8ff"/><stop offset="0.5000" stop-color="#5ad8ff"/><stop offset="0.5200" stop-color="#70ffff"/><stop offset="0.5400" stop-color="#70f5c0"/><stop offset="0.5600" stop-color="#70f070"/><stop offset="0.5867" stop-color="#c0f070"/><stop offset="0.6000" stop-color="#f8f878"/><stop offset="0.6333" stop-color="#ffd058"/><stop offset="0.6667" stop-color="#ffa838"/><stop offset="0.7000" stop-color="#ff8000"/><stop offset="0.7333" stop-color="#c85010"/><stop offset="0.7667" stop-color="#902000"/><stop offset="0.7867" stop-color="#7a0000"/><stop offset="1.0000" stop-color="#7a0000"/></linearGradient></defs>
<rect x="1718.5" y="101.5" width="15" height="728" fill="url(#cbR)" stroke="#000" stroke-width="1"/>
<text x="1741.5" y="156.3" font-size="16.5" text-anchor="start" font-weight="normal" fill="#000" >40</text>
<text x="1741.5" y="204.9" font-size="16.5" text-anchor="start" font-weight="normal" fill="#000" >30</text>
<text x="1741.5" y="253.4" font-size="16.5" text-anchor="start" font-weight="normal" fill="#000" >20</text>
<text x="1741.5" y="301.9" font-size="16.5" text-anchor="start" font-weight="normal" fill="#000" >10</text>
<text x="1741.5" y="350.5" font-size="16.5" text-anchor="start" font-weight="normal" fill="#000" >0</text>
<text x="1741.5" y="399.1" font-size="16.5" text-anchor="start" font-weight="normal" fill="#000" >−10</text>
<text x="1741.5" y="447.6" font-size="16.5" text-anchor="start" font-weight="normal" fill="#000" >−20</text>
<text x="1741.5" y="496.1" font-size="16.5" text-anchor="start" font-weight="normal" fill="#000" >−30</text>
<text x="1741.5" y="544.7" font-size="16.5" text-anchor="start" font-weight="normal" fill="#000" >−40</text>
<text x="1741.5" y="593.2" font-size="16.5" text-anchor="start" font-weight="normal" fill="#000" >−50</text>
<text x="1741.5" y="641.8" font-size="16.5" text-anchor="start" font-weight="normal" fill="#000" >−60</text>
<text x="1741.5" y="690.3" font-size="16.5" text-anchor="start" font-weight="normal" fill="#000" >−70</text>
<text x="1741.5" y="738.9" font-size="16.5" text-anchor="start" font-weight="normal" fill="#000" >−80</text>
<text x="1741.5" y="787.5" font-size="16.5" text-anchor="start" font-weight="normal" fill="#000" >−90</text>
<text x="1727.5" y="93.5" font-size="16.5" text-anchor="start" font-weight="normal" fill="#000" >°C</text>
<rect x="108.5" y="903.5" width="750" height="375" fill="#fff"/>
<polyline points="141.9,1261.0 160.3,1261.0 178.8,1261.0 197.2,1261.0 215.6,1261.0 234.1,1261.0 252.5,1261.0 270.9,1261.0 289.3,1261.0 307.8,1261.0 326.2,1261.0 344.6,1244.8 363.1,1244.8 381.5,1244.8 399.9,1228.5 418.4,1212.3 436.8,1212.3 455.2,1196.1 473.6,1196.1 492.1,1179.9 510.5,1147.4 528.9,1147.4 547.4,1115.0 565.8,1082.5 584.2,1066.3 602.6,1033.8 621.1,1033.8 639.5,1033.8 657.9,969.0 676.4,920.3 694.8,920.3 713.2,952.7 731.7,952.7 750.1,952.7 768.5,969.0 786.9,1001.4 805.4,985.2 823.8,952.7" fill="none" stroke="#0000ff" stroke-width="4.6" stroke-linejoin="round" stroke-linecap="square"/>
<rect x="117.6" y="912.6" width="225.6" height="34.3" rx="5" fill="#fff" fill-opacity="0.8" stroke="#cccccc" stroke-width="2.9"/>
<line x1="122.7" y1="928.5" x2="166" y2="928.5" stroke="#0000ff" stroke-width="5"/>
<text x="179.5" y="935.7" font-size="18.7">Wind[max=125]</text>
<polyline points="141.9,920.5 160.3,920.5 178.8,920.5 197.2,920.5 215.6,920.5 234.1,920.5 252.5,920.5 270.9,920.5 289.3,920.5 307.8,920.5 326.2,920.5 344.6,920.5 363.1,925.7 381.5,925.7 399.9,925.7 418.4,936.0 436.8,941.1 455.2,951.5 473.6,951.5 492.1,972.1 510.5,977.3 528.9,987.6 547.4,1013.4 565.8,1039.2 584.2,1054.7 602.6,1111.4 621.1,1111.4 639.5,1111.4 657.9,1178.5 676.4,1261.1 694.8,1261.1 713.2,1224.9 731.7,1224.9 750.1,1224.9 768.5,1204.3 786.9,1168.2 805.4,1188.8 823.8,1224.9" fill="none" stroke="#1f77b4" stroke-width="4.6" stroke-linejoin="round" stroke-linecap="square"/>
<rect x="630.5" y="912.6" width="217.6" height="34.3" rx="5" fill="#fff" fill-opacity="0.8" stroke="#cccccc" stroke-width="2.9"/>
<line x1="635" y1="928.5" x2="678" y2="928.5" stroke="#1f77b4" stroke-width="5"/>
<text x="691.5" y="935.7" font-size="18.7">Pres.[min=944]</text>
<line x1="96.3" y1="1261.0" x2="108" y2="1261.0" stroke="#000" stroke-width="2.6"/>
<text x="83" y="1266.0" font-size="13.6" text-anchor="end">20</text>
<line x1="96.3" y1="1196.1" x2="108" y2="1196.1" stroke="#000" stroke-width="2.6"/>
<text x="83" y="1201.1" font-size="13.6" text-anchor="end">40</text>
<line x1="96.3" y1="1131.2" x2="108" y2="1131.2" stroke="#000" stroke-width="2.6"/>
<text x="83" y="1136.2" font-size="13.6" text-anchor="end">60</text>
<line x1="96.3" y1="1066.3" x2="108" y2="1066.3" stroke="#000" stroke-width="2.6"/>
<text x="83" y="1071.3" font-size="13.6" text-anchor="end">80</text>
<line x1="96.3" y1="1001.4" x2="108" y2="1001.4" stroke="#000" stroke-width="2.6"/>
<text x="83" y="1006.4" font-size="13.6" text-anchor="end">100</text>
<line x1="96.3" y1="936.5" x2="108" y2="936.5" stroke="#000" stroke-width="2.6"/>
<text x="83" y="941.5" font-size="13.6" text-anchor="end">120</text>
<line x1="859" y1="1230.1" x2="870.9" y2="1230.1" stroke="#000" stroke-width="2.6"/>
<text x="883.5" y="1235.1" font-size="13.6">950</text>
<line x1="859" y1="1178.5" x2="870.9" y2="1178.5" stroke="#000" stroke-width="2.6"/>
<text x="883.5" y="1183.5" font-size="13.6">960</text>
<line x1="859" y1="1126.9" x2="870.9" y2="1126.9" stroke="#000" stroke-width="2.6"/>
<text x="883.5" y="1131.9" font-size="13.6">970</text>
<line x1="859" y1="1075.3" x2="870.9" y2="1075.3" stroke="#000" stroke-width="2.6"/>
<text x="883.5" y="1080.3" font-size="13.6">980</text>
<line x1="859" y1="1023.7" x2="870.9" y2="1023.7" stroke="#000" stroke-width="2.6"/>
<text x="883.5" y="1028.7" font-size="13.6">990</text>
<line x1="859" y1="972.1" x2="870.9" y2="972.1" stroke="#000" stroke-width="2.6"/>
<text x="883.5" y="977.1" font-size="13.6">1000</text>
<line x1="859" y1="920.5" x2="870.9" y2="920.5" stroke="#000" stroke-width="2.6"/>
<text x="883.5" y="925.5" font-size="13.6">1010</text>
<text transform="translate(40.5,1092.5) rotate(-90)" font-size="13.6" text-anchor="middle">Wind</text>
<text transform="translate(943.5,1092.5) rotate(-90)" font-size="13.6" text-anchor="middle">Pressure</text>
<rect x="108.5" y="903.5" width="750" height="375" fill="none" stroke="#000" stroke-width="2.7"/>
<polyline points="141.9,1636.0 160.3,1636.0 178.8,1636.0 197.2,1636.0 215.6,1636.0 234.1,1636.0 252.5,1636.0 270.9,1636.0 289.3,1636.0 307.8,1636.0 326.2,1636.0 344.6,1636.0 363.1,1636.0 381.5,1636.0 399.9,1636.0 418.4,1633.7 436.8,1631.5 455.2,1628.5 473.6,1625.5 492.1,1621.8 510.5,1616.2 528.9,1610.5 547.4,1602.7 565.8,1592.3 584.2,1580.4 602.6,1565.4 621.1,1550.4 639.5,1535.4 657.9,1512.9 676.4,1483.9 694.8,1455.0 713.2,1430.5 731.7,1405.9 750.1,1381.4 768.5,1359.0 786.9,1340.4 805.4,1320.0 823.8,1295.5" fill="none" stroke="#008000" stroke-width="4.6" stroke-linejoin="round" stroke-linecap="square"/>
<rect x="117.6" y="1288.1" width="248" height="33.8" rx="5" fill="#fff" fill-opacity="0.8" stroke="#cccccc" stroke-width="2.9"/>
<line x1="122.7" y1="1303.8" x2="166" y2="1303.8" stroke="#008000" stroke-width="5"/>
<text x="179.5" y="1311.3" font-size="18.9">ACE[max=18.365]</text>
<line x1="96.3" y1="1636.0" x2="108" y2="1636.0" stroke="#000" stroke-width="2.6"/>
<text x="83" y="1641.0" font-size="13.6" text-anchor="end">0.0</text>
<line x1="96.3" y1="1589.6" x2="108" y2="1589.6" stroke="#000" stroke-width="2.6"/>
<text x="83" y="1594.6" font-size="13.6" text-anchor="end">2.5</text>
<line x1="96.3" y1="1543.3" x2="108" y2="1543.3" stroke="#000" stroke-width="2.6"/>
<text x="83" y="1548.3" font-size="13.6" text-anchor="end">5.0</text>
<line x1="96.3" y1="1496.9" x2="108" y2="1496.9" stroke="#000" stroke-width="2.6"/>
<text x="83" y="1501.9" font-size="13.6" text-anchor="end">7.5</text>
<line x1="96.3" y1="1450.6" x2="108" y2="1450.6" stroke="#000" stroke-width="2.6"/>
<text x="83" y="1455.6" font-size="13.6" text-anchor="end">10.0</text>
<line x1="96.3" y1="1404.2" x2="108" y2="1404.2" stroke="#000" stroke-width="2.6"/>
<text x="83" y="1409.2" font-size="13.6" text-anchor="end">12.5</text>
<line x1="96.3" y1="1357.9" x2="108" y2="1357.9" stroke="#000" stroke-width="2.6"/>
<text x="83" y="1362.9" font-size="13.6" text-anchor="end">15.0</text>
<line x1="96.3" y1="1311.5" x2="108" y2="1311.5" stroke="#000" stroke-width="2.6"/>
<text x="83" y="1316.5" font-size="13.6" text-anchor="end">17.5</text>
<text transform="translate(35,1466.5) rotate(-90)" font-size="13.6" text-anchor="middle">ACE</text>
<rect x="108.5" y="1278.5" width="750" height="375" fill="none" stroke="#000" stroke-width="2.7"/>
<text x="483" y="881.8" font-size="22.7" text-anchor="middle">Wind / Pres. / ACE Diagnosis</text>
<defs><clipPath id="brclip"><rect x="984" y="904" width="749" height="749"/></clipPath></defs>
<g clip-path="url(#brclip)" shape-rendering="crispEdges">
<rect x="984" y="904" width="749" height="749" fill="#fff"/>
<rect x="978.9" y="903.1" width="84.3" height="14.38" fill="#000"/>
<rect x="1245.9" y="903.1" width="238.8" height="14.38" fill="#000"/>
<rect x="1484.7" y="903.1" width="140.5" height="14.38" fill="#a0a0a0"/>
<rect x="1625.2" y="903.1" width="112.4" height="14.38" fill="#707070"/>
<rect x="979.1" y="917.4" width="210.7" height="14.38" fill="#000"/>
<rect x="1246.0" y="917.4" width="238.8" height="14.38" fill="#000"/>
<rect x="1484.9" y="917.4" width="168.6" height="14.38" fill="#a0a0a0"/>
<rect x="1653.5" y="917.4" width="84.3" height="14.38" fill="#707070"/>
<rect x="979.2" y="931.8" width="210.8" height="14.38" fill="#000"/>
<rect x="1232.1" y="931.8" width="168.6" height="14.38" fill="#000"/>
<rect x="1400.7" y="931.8" width="28.1" height="14.38" fill="#a0a0a0"/>
<rect x="1428.8" y="931.8" width="42.2" height="14.38" fill="#000"/>
<rect x="1471.0" y="931.8" width="196.7" height="14.38" fill="#a0a0a0"/>
<rect x="1667.7" y="931.8" width="70.2" height="14.38" fill="#707070"/>
<rect x="979.3" y="946.1" width="28.1" height="14.38" fill="#000"/>
<rect x="1232.2" y="946.1" width="238.8" height="14.38" fill="#000"/>
<rect x="1471.1" y="946.1" width="224.8" height="14.38" fill="#a0a0a0"/>
<rect x="1695.9" y="946.1" width="42.1" height="14.38" fill="#707070"/>
<rect x="979.5" y="960.4" width="14.0" height="14.38" fill="#000"/>
<rect x="1218.3" y="960.4" width="196.7" height="14.38" fill="#000"/>
<rect x="1415.0" y="960.4" width="14.0" height="14.38" fill="#a0a0a0"/>
<rect x="1429.1" y="960.4" width="84.3" height="14.38" fill="#000"/>
<rect x="1513.4" y="960.4" width="196.7" height="14.38" fill="#a0a0a0"/>
<rect x="1710.1" y="960.4" width="28.1" height="14.38" fill="#707070"/>
<rect x="1204.4" y="974.8" width="70.2" height="14.38" fill="#000"/>
<rect x="1302.7" y="974.8" width="266.9" height="14.38" fill="#000"/>
<rect x="1569.7" y="974.8" width="154.6" height="14.38" fill="#a0a0a0"/>
<rect x="1724.2" y="974.8" width="14.0" height="14.38" fill="#707070"/>
<rect x="1204.5" y="989.1" width="28.1" height="14.38" fill="#000"/>
<rect x="1246.7" y="989.1" width="28.1" height="14.38" fill="#000"/>
<rect x="1302.9" y="989.1" width="281.0" height="14.38" fill="#000"/>
<rect x="1583.9" y="989.1" width="140.5" height="14.38" fill="#a0a0a0"/>
<rect x="1724.4" y="989.1" width="14.0" height="14.38" fill="#707070"/>
<rect x="1246.8" y="1003.4" width="365.3" height="14.38" fill="#000"/>
<rect x="1612.1" y="1003.4" width="112.4" height="14.38" fill="#a0a0a0"/>
<rect x="1724.5" y="1003.4" width="14.0" height="14.38" fill="#707070"/>
<rect x="1204.8" y="1017.7" width="421.5" height="14.38" fill="#000"/>
<rect x="1626.3" y="1017.7" width="112.4" height="14.38" fill="#a0a0a0"/>
<rect x="1204.9" y="1032.1" width="140.5" height="14.38" fill="#000"/>
<rect x="1345.4" y="1032.1" width="42.2" height="14.38" fill="#a0a0a0"/>
<rect x="1387.6" y="1032.1" width="252.9" height="14.38" fill="#000"/>
<rect x="1640.5" y="1032.1" width="98.4" height="14.38" fill="#a0a0a0"/>
<rect x="1022.4" y="1046.4" width="14.1" height="14.38" fill="#888"/>
<rect x="1205.0" y="1046.4" width="126.5" height="14.38" fill="#000"/>
<rect x="1331.5" y="1046.4" width="84.3" height="14.38" fill="#a0a0a0"/>
<rect x="1415.8" y="1046.4" width="252.9" height="14.38" fill="#000"/>
<rect x="1668.7" y="1046.4" width="70.2" height="14.38" fill="#a0a0a0"/>
<rect x="1205.2" y="1060.7" width="112.4" height="14.38" fill="#000"/>
<rect x="1317.6" y="1060.7" width="126.5" height="14.38" fill="#a0a0a0"/>
<rect x="1444.0" y="1060.7" width="238.8" height="14.38" fill="#000"/>
<rect x="1682.9" y="1060.7" width="56.2" height="14.38" fill="#a0a0a0"/>
<rect x="1191.2" y="1075.1" width="98.3" height="14.38" fill="#000"/>
<rect x="1289.6" y="1075.1" width="168.6" height="14.38" fill="#a0a0a0"/>
<rect x="1458.2" y="1075.1" width="238.9" height="14.38" fill="#000"/>
<rect x="1697.1" y="1075.1" width="42.1" height="14.38" fill="#a0a0a0"/>
<rect x="1191.4" y="1089.4" width="84.3" height="14.38" fill="#000"/>
<rect x="1275.7" y="1089.4" width="98.4" height="14.38" fill="#a0a0a0"/>
<rect x="1374.0" y="1089.4" width="14.0" height="14.38" fill="#000"/>
<rect x="1388.1" y="1089.4" width="84.3" height="14.38" fill="#a0a0a0"/>
<rect x="1472.4" y="1089.4" width="224.8" height="14.38" fill="#000"/>
<rect x="1697.2" y="1089.4" width="42.1" height="14.38" fill="#a0a0a0"/>
<rect x="1177.5" y="1103.7" width="84.3" height="14.38" fill="#000"/>
<rect x="1261.8" y="1103.7" width="70.2" height="14.38" fill="#a0a0a0"/>
<rect x="1332.0" y="1103.7" width="14.0" height="14.38" fill="#000"/>
<rect x="1346.1" y="1103.7" width="140.5" height="14.38" fill="#a0a0a0"/>
<rect x="1486.6" y="1103.7" width="224.8" height="14.38" fill="#000"/>
<rect x="1711.4" y="1103.7" width="28.1" height="14.38" fill="#a0a0a0"/>
<rect x="1163.5" y="1118.0" width="70.2" height="14.38" fill="#000"/>
<rect x="1233.8" y="1118.0" width="98.3" height="14.38" fill="#a0a0a0"/>
<rect x="1332.1" y="1118.0" width="28.1" height="14.38" fill="#000"/>
<rect x="1360.2" y="1118.0" width="42.2" height="14.38" fill="#a0a0a0"/>
<rect x="1402.4" y="1118.0" width="84.3" height="14.38" fill="#000"/>
<rect x="1486.7" y="1118.0" width="14.0" height="14.38" fill="#a0a0a0"/>
<rect x="1500.7" y="1118.0" width="84.3" height="14.38" fill="#000"/>
<rect x="1613.1" y="1118.0" width="112.4" height="14.38" fill="#000"/>
<rect x="1725.5" y="1118.0" width="14.0" height="14.38" fill="#a0a0a0"/>
<rect x="995.1" y="1132.4" width="14.1" height="14.38" fill="#888"/>
<rect x="1149.6" y="1132.4" width="70.2" height="14.38" fill="#000"/>
<rect x="1219.9" y="1132.4" width="168.6" height="14.38" fill="#a0a0a0"/>
<rect x="1388.5" y="1132.4" width="351.2" height="14.38" fill="#000"/>
<rect x="1135.7" y="1146.7" width="70.2" height="14.38" fill="#000"/>
<rect x="1206.0" y="1146.7" width="182.7" height="14.38" fill="#a0a0a0"/>
<rect x="1388.6" y="1146.7" width="56.2" height="14.38" fill="#000"/>
<rect x="1487.0" y="1146.7" width="252.9" height="14.38" fill="#000"/>
<rect x="1135.8" y="1161.0" width="70.2" height="14.38" fill="#000"/>
<rect x="1206.1" y="1161.0" width="56.2" height="14.38" fill="#a0a0a0"/>
<rect x="1262.3" y="1161.0" width="14.0" height="14.38" fill="#707070"/>
<rect x="1276.3" y="1161.0" width="112.4" height="14.38" fill="#a0a0a0"/>
<rect x="1388.7" y="1161.0" width="28.1" height="14.38" fill="#000"/>
<rect x="1515.2" y="1161.0" width="224.8" height="14.38" fill="#000"/>
<rect x="1136.0" y="1175.4" width="56.2" height="14.38" fill="#000"/>
<rect x="1192.2" y="1175.4" width="42.2" height="14.38" fill="#a0a0a0"/>
<rect x="1234.3" y="1175.4" width="84.3" height="14.38" fill="#707070"/>
<rect x="1318.6" y="1175.4" width="70.2" height="14.38" fill="#a0a0a0"/>
<rect x="1388.9" y="1175.4" width="42.1" height="14.38" fill="#000"/>
<rect x="1529.4" y="1175.4" width="210.8" height="14.38" fill="#000"/>
<rect x="1122.0" y="1189.7" width="42.2" height="14.38" fill="#000"/>
<rect x="1164.2" y="1189.7" width="56.2" height="14.38" fill="#a0a0a0"/>
<rect x="1220.4" y="1189.7" width="28.1" height="14.38" fill="#707070"/>
<rect x="1248.5" y="1189.7" width="28.1" height="14.38" fill="#3c3c3c"/>
<rect x="1276.6" y="1189.7" width="70.2" height="14.38" fill="#707070"/>
<rect x="1346.8" y="1189.7" width="42.2" height="14.38" fill="#a0a0a0"/>
<rect x="1389.0" y="1189.7" width="56.2" height="14.38" fill="#000"/>
<rect x="1571.6" y="1189.7" width="168.6" height="14.38" fill="#000"/>
<rect x="1122.2" y="1204.0" width="42.2" height="14.38" fill="#000"/>
<rect x="1164.3" y="1204.0" width="42.1" height="14.38" fill="#a0a0a0"/>
<rect x="1206.5" y="1204.0" width="28.1" height="14.38" fill="#707070"/>
<rect x="1234.6" y="1204.0" width="14.0" height="14.38" fill="#3c3c3c"/>
<rect x="1248.6" y="1204.0" width="28.1" height="14.38" fill="#c6c6c6"/>
<rect x="1276.7" y="1204.0" width="42.2" height="14.38" fill="#bcbcbc"/>
<rect x="1318.9" y="1204.0" width="14.0" height="14.38" fill="#c6c6c6"/>
<rect x="1332.9" y="1204.0" width="14.0" height="14.38" fill="#3c3c3c"/>
<rect x="1347.0" y="1204.0" width="14.0" height="14.38" fill="#707070"/>
<rect x="1361.0" y="1204.0" width="28.1" height="14.38" fill="#a0a0a0"/>
<rect x="1389.1" y="1204.0" width="42.1" height="14.38" fill="#000"/>
<rect x="1571.8" y="1204.0" width="168.6" height="14.38" fill="#000"/>
<rect x="1122.3" y="1218.4" width="28.1" height="14.38" fill="#000"/>
<rect x="1150.4" y="1218.4" width="42.2" height="14.38" fill="#a0a0a0"/>
<rect x="1192.5" y="1218.4" width="14.0" height="14.38" fill="#707070"/>
<rect x="1206.6" y="1218.4" width="28.1" height="14.38" fill="#3c3c3c"/>
<rect x="1234.7" y="1218.4" width="14.0" height="14.38" fill="#bcbcbc"/>
<rect x="1248.8" y="1218.4" width="14.0" height="14.38" fill="#b0b0b0"/>
<rect x="1262.8" y="1218.4" width="14.0" height="14.38" fill="#a0a0a0"/>
<rect x="1276.8" y="1218.4" width="14.0" height="14.38" fill="#989898"/>
<rect x="1290.9" y="1218.4" width="14.1" height="14.38" fill="#8c8c8c"/>
<rect x="1305.0" y="1218.4" width="14.0" height="14.38" fill="#7c7c7c"/>
<rect x="1319.0" y="1218.4" width="14.0" height="14.38" fill="#989898"/>
<rect x="1333.0" y="1218.4" width="14.0" height="14.38" fill="#bcbcbc"/>
<rect x="1347.1" y="1218.4" width="14.0" height="14.38" fill="#707070"/>
<rect x="1361.1" y="1218.4" width="42.2" height="14.38" fill="#a0a0a0"/>
<rect x="1403.3" y="1218.4" width="56.2" height="14.38" fill="#000"/>
<rect x="1571.9" y="1218.4" width="70.2" height="14.38" fill="#000"/>
<rect x="1656.2" y="1218.4" width="56.2" height="14.38" fill="#000"/>
<rect x="1712.4" y="1218.4" width="14.1" height="14.38" fill="#a0a0a0"/>
<rect x="1726.5" y="1218.4" width="14.0" height="14.38" fill="#000"/>
<rect x="1122.4" y="1232.7" width="28.1" height="14.38" fill="#000"/>
<rect x="1150.5" y="1232.7" width="28.1" height="14.38" fill="#a0a0a0"/>
<rect x="1178.6" y="1232.7" width="28.1" height="14.38" fill="#707070"/>
<rect x="1206.7" y="1232.7" width="14.0" height="14.38" fill="#3c3c3c"/>
<rect x="1220.8" y="1232.7" width="14.1" height="14.38" fill="#bcbcbc"/>
<rect x="1234.8" y="1232.7" width="14.0" height="14.38" fill="#a0a0a0"/>
<rect x="1248.9" y="1232.7" width="14.0" height="14.38" fill="#989898"/>
<rect x="1262.9" y="1232.7" width="14.0" height="14.38" fill="#8c8c8c"/>
<rect x="1277.0" y="1232.7" width="14.0" height="14.38" fill="#7c7c7c"/>
<rect x="1291.0" y="1232.7" width="14.1" height="14.38" fill="#707070"/>
<rect x="1305.1" y="1232.7" width="14.0" height="14.38" fill="#d2d2d2"/>
<rect x="1319.1" y="1232.7" width="14.0" height="14.38" fill="#707070"/>
<rect x="1333.2" y="1232.7" width="14.0" height="14.38" fill="#989898"/>
<rect x="1347.2" y="1232.7" width="14.0" height="14.38" fill="#c6c6c6"/>
<rect x="1361.3" y="1232.7" width="14.1" height="14.38" fill="#707070"/>
<rect x="1375.3" y="1232.7" width="28.1" height="14.38" fill="#a0a0a0"/>
<rect x="1403.4" y="1232.7" width="42.2" height="14.38" fill="#000"/>
<rect x="1572.0" y="1232.7" width="126.5" height="14.38" fill="#000"/>
<rect x="1698.5" y="1232.7" width="42.1" height="14.38" fill="#a0a0a0"/>
<rect x="1122.6" y="1247.0" width="28.1" height="14.38" fill="#000"/>
<rect x="1150.7" y="1247.0" width="28.1" height="14.38" fill="#a0a0a0"/>
<rect x="1178.8" y="1247.0" width="14.0" height="14.38" fill="#707070"/>
<rect x="1192.8" y="1247.0" width="14.0" height="14.38" fill="#3c3c3c"/>
<rect x="1206.9" y="1247.0" width="14.0" height="14.38" fill="#c6c6c6"/>
<rect x="1220.9" y="1247.0" width="14.1" height="14.38" fill="#b0b0b0"/>
<rect x="1235.0" y="1247.0" width="14.0" height="14.38" fill="#a0a0a0"/>
<rect x="1249.0" y="1247.0" width="14.0" height="14.38" fill="#7c7c7c"/>
<rect x="1263.1" y="1247.0" width="14.0" height="14.38" fill="#e6e6e6"/>
<rect x="1277.1" y="1247.0" width="42.2" height="14.38" fill="#d2d2d2"/>
<rect x="1319.3" y="1247.0" width="14.0" height="14.38" fill="#c6c6c6"/>
<rect x="1333.3" y="1247.0" width="14.0" height="14.38" fill="#707070"/>
<rect x="1347.4" y="1247.0" width="14.0" height="14.38" fill="#8c8c8c"/>
<rect x="1361.4" y="1247.0" width="14.1" height="14.38" fill="#c6c6c6"/>
<rect x="1375.5" y="1247.0" width="14.0" height="14.38" fill="#707070"/>
<rect x="1389.5" y="1247.0" width="14.0" height="14.38" fill="#a0a0a0"/>
<rect x="1403.6" y="1247.0" width="70.2" height="14.38" fill="#000"/>
<rect x="1558.1" y="1247.0" width="140.5" height="14.38" fill="#000"/>
<rect x="1698.6" y="1247.0" width="42.1" height="14.38" fill="#a0a0a0"/>
<rect x="1080.5" y="1261.3" width="70.2" height="14.38" fill="#000"/>
<rect x="1150.8" y="1261.3" width="28.1" height="14.38" fill="#a0a0a0"/>
<rect x="1178.9" y="1261.3" width="14.0" height="14.38" fill="#707070"/>
<rect x="1192.9" y="1261.3" width="14.0" height="14.38" fill="#3c3c3c"/>
<rect x="1207.0" y="1261.3" width="14.0" height="14.38" fill="#bcbcbc"/>
<rect x="1221.0" y="1261.3" width="14.1" height="14.38" fill="#a0a0a0"/>
<rect x="1235.1" y="1261.3" width="14.0" height="14.38" fill="#8c8c8c"/>
<rect x="1249.1" y="1261.3" width="14.0" height="14.38" fill="#707070"/>
<rect x="1263.2" y="1261.3" width="14.0" height="14.38" fill="#d2d2d2"/>
<rect x="1277.2" y="1261.3" width="14.0" height="14.38" fill="#bcbcbc"/>
<rect x="1291.3" y="1261.3" width="42.2" height="14.38" fill="#c6c6c6"/>
<rect x="1333.4" y="1261.3" width="14.0" height="14.38" fill="#d2d2d2"/>
<rect x="1347.5" y="1261.3" width="14.0" height="14.38" fill="#e6e6e6"/>
<rect x="1361.5" y="1261.3" width="14.1" height="14.38" fill="#a0a0a0"/>
<rect x="1375.6" y="1261.3" width="14.0" height="14.38" fill="#707070"/>
<rect x="1389.6" y="1261.3" width="28.1" height="14.38" fill="#a0a0a0"/>
<rect x="1417.7" y="1261.3" width="42.2" height="14.38" fill="#000"/>
<rect x="1473.9" y="1261.3" width="14.0" height="14.38" fill="#000"/>
<rect x="1572.3" y="1261.3" width="140.5" height="14.38" fill="#000"/>
<rect x="1712.8" y="1261.3" width="28.1" height="14.38" fill="#a0a0a0"/>
<rect x="1080.7" y="1275.7" width="70.2" height="14.38" fill="#000"/>
<rect x="1150.9" y="1275.7" width="28.1" height="14.38" fill="#a0a0a0"/>
<rect x="1179.0" y="1275.7" width="14.0" height="14.38" fill="#707070"/>
<rect x="1193.1" y="1275.7" width="14.0" height="14.38" fill="#3c3c3c"/>
<rect x="1207.1" y="1275.7" width="14.0" height="14.38" fill="#b0b0b0"/>
<rect x="1221.2" y="1275.7" width="14.1" height="14.38" fill="#989898"/>
<rect x="1235.2" y="1275.7" width="14.0" height="14.38" fill="#7c7c7c"/>
<rect x="1249.3" y="1275.7" width="14.0" height="14.38" fill="#f4f4f4"/>
<rect x="1263.3" y="1275.7" width="14.0" height="14.38" fill="#d2d2d2"/>
<rect x="1277.4" y="1275.7" width="14.0" height="14.38" fill="#bcbcbc"/>
<rect x="1291.4" y="1275.7" width="42.2" height="14.38" fill="#d2d2d2"/>
<rect x="1333.6" y="1275.7" width="14.0" height="14.38" fill="#c6c6c6"/>
<rect x="1347.6" y="1275.7" width="14.0" height="14.38" fill="#e6e6e6"/>
<rect x="1361.7" y="1275.7" width="14.1" height="14.38" fill="#989898"/>
<rect x="1375.7" y="1275.7" width="14.0" height="14.38" fill="#707070"/>
<rect x="1389.8" y="1275.7" width="28.1" height="14.38" fill="#a0a0a0"/>
<rect x="1417.9" y="1275.7" width="42.2" height="14.38" fill="#000"/>
<rect x="1474.1" y="1275.7" width="14.0" height="14.38" fill="#000"/>
<rect x="1572.4" y="1275.7" width="154.6" height="14.38" fill="#000"/>
<rect x="1727.0" y="1275.7" width="14.0" height="14.38" fill="#a0a0a0"/>
<rect x="1123.0" y="1290.0" width="28.1" height="14.38" fill="#000"/>
<rect x="1151.0" y="1290.0" width="28.1" height="14.38" fill="#a0a0a0"/>
<rect x="1179.2" y="1290.0" width="14.0" height="14.38" fill="#707070"/>
<rect x="1193.2" y="1290.0" width="14.0" height="14.38" fill="#3c3c3c"/>
<rect x="1207.2" y="1290.0" width="14.0" height="14.38" fill="#b0b0b0"/>
<rect x="1221.3" y="1290.0" width="14.1" height="14.38" fill="#8c8c8c"/>
<rect x="1235.4" y="1290.0" width="14.0" height="14.38" fill="#7c7c7c"/>
<rect x="1249.4" y="1290.0" width="14.0" height="14.38" fill="#707070"/>
<rect x="1263.5" y="1290.0" width="28.1" height="14.38" fill="#e6e6e6"/>
<rect x="1291.5" y="1290.0" width="28.1" height="14.38" fill="#f4f4f4"/>
<rect x="1319.7" y="1290.0" width="14.0" height="14.38" fill="#e6e6e6"/>
<rect x="1333.7" y="1290.0" width="14.0" height="14.38" fill="#d2d2d2"/>
<rect x="1347.8" y="1290.0" width="14.0" height="14.38" fill="#7c7c7c"/>
<rect x="1361.8" y="1290.0" width="14.1" height="14.38" fill="#8c8c8c"/>
<rect x="1375.9" y="1290.0" width="14.0" height="14.38" fill="#3c3c3c"/>
<rect x="1389.9" y="1290.0" width="56.2" height="14.38" fill="#000"/>
<rect x="1572.5" y="1290.0" width="154.6" height="14.38" fill="#000"/>
<rect x="1727.1" y="1290.0" width="14.0" height="14.38" fill="#a0a0a0"/>
<rect x="1123.1" y="1304.3" width="28.1" height="14.38" fill="#000"/>
<rect x="1151.2" y="1304.3" width="28.1" height="14.38" fill="#a0a0a0"/>
<rect x="1179.3" y="1304.3" width="14.0" height="14.38" fill="#707070"/>
<rect x="1193.3" y="1304.3" width="14.0" height="14.38" fill="#3c3c3c"/>
<rect x="1207.4" y="1304.3" width="14.0" height="14.38" fill="#b0b0b0"/>
<rect x="1221.4" y="1304.3" width="14.1" height="14.38" fill="#8c8c8c"/>
<rect x="1235.5" y="1304.3" width="84.3" height="14.38" fill="#707070"/>
<rect x="1319.8" y="1304.3" width="14.0" height="14.38" fill="#f4f4f4"/>
<rect x="1333.8" y="1304.3" width="14.0" height="14.38" fill="#707070"/>
<rect x="1347.9" y="1304.3" width="14.0" height="14.38" fill="#7c7c7c"/>
<rect x="1361.9" y="1304.3" width="14.1" height="14.38" fill="#a0a0a0"/>
<rect x="1376.0" y="1304.3" width="14.0" height="14.38" fill="#707070"/>
<rect x="1390.0" y="1304.3" width="42.1" height="14.38" fill="#000"/>
<rect x="1572.7" y="1304.3" width="154.6" height="14.38" fill="#000"/>
<rect x="1727.2" y="1304.3" width="14.0" height="14.38" fill="#a0a0a0"/>
<rect x="1081.1" y="1318.7" width="70.2" height="14.38" fill="#000"/>
<rect x="1151.3" y="1318.7" width="42.2" height="14.38" fill="#a0a0a0"/>
<rect x="1193.5" y="1318.7" width="14.0" height="14.38" fill="#707070"/>
<rect x="1207.5" y="1318.7" width="14.0" height="14.38" fill="#c6c6c6"/>
<rect x="1221.6" y="1318.7" width="14.1" height="14.38" fill="#989898"/>
<rect x="1235.6" y="1318.7" width="56.2" height="14.38" fill="#7c7c7c"/>
<rect x="1291.8" y="1318.7" width="42.2" height="14.38" fill="#707070"/>
<rect x="1334.0" y="1318.7" width="14.0" height="14.38" fill="#7c7c7c"/>
<rect x="1348.0" y="1318.7" width="14.0" height="14.38" fill="#8c8c8c"/>
<rect x="1362.1" y="1318.7" width="14.1" height="14.38" fill="#bcbcbc"/>
<rect x="1376.1" y="1318.7" width="14.0" height="14.38" fill="#a0a0a0"/>
<rect x="1390.2" y="1318.7" width="42.1" height="14.38" fill="#000"/>
<rect x="1572.8" y="1318.7" width="140.5" height="14.38" fill="#000"/>
<rect x="1713.3" y="1318.7" width="28.1" height="14.38" fill="#a0a0a0"/>
<rect x="1081.2" y="1333.0" width="84.3" height="14.38" fill="#000"/>
<rect x="1165.5" y="1333.0" width="28.1" height="14.38" fill="#a0a0a0"/>
<rect x="1193.6" y="1333.0" width="14.0" height="14.38" fill="#707070"/>
<rect x="1207.6" y="1333.0" width="14.0" height="14.38" fill="#3c3c3c"/>
<rect x="1221.7" y="1333.0" width="14.1" height="14.38" fill="#a0a0a0"/>
<rect x="1235.7" y="1333.0" width="14.0" height="14.38" fill="#989898"/>
<rect x="1249.8" y="1333.0" width="42.1" height="14.38" fill="#8c8c8c"/>
<rect x="1291.9" y="1333.0" width="42.2" height="14.38" fill="#7c7c7c"/>
<rect x="1334.1" y="1333.0" width="14.0" height="14.38" fill="#8c8c8c"/>
<rect x="1348.1" y="1333.0" width="14.0" height="14.38" fill="#c6c6c6"/>
<rect x="1362.2" y="1333.0" width="14.1" height="14.38" fill="#707070"/>
<rect x="1376.2" y="1333.0" width="28.1" height="14.38" fill="#000"/>
<rect x="1572.9" y="1333.0" width="140.5" height="14.38" fill="#000"/>
<rect x="1713.4" y="1333.0" width="28.1" height="14.38" fill="#a0a0a0"/>
<rect x="1081.3" y="1347.3" width="98.4" height="14.38" fill="#000"/>
<rect x="1179.7" y="1347.3" width="28.1" height="14.38" fill="#a0a0a0"/>
<rect x="1207.8" y="1347.3" width="14.0" height="14.38" fill="#707070"/>
<rect x="1221.8" y="1347.3" width="14.1" height="14.38" fill="#3c3c3c"/>
<rect x="1235.9" y="1347.3" width="14.0" height="14.38" fill="#c6c6c6"/>
<rect x="1249.9" y="1347.3" width="42.1" height="14.38" fill="#a0a0a0"/>
<rect x="1292.1" y="1347.3" width="14.1" height="14.38" fill="#989898"/>
<rect x="1306.1" y="1347.3" width="28.1" height="14.38" fill="#8c8c8c"/>
<rect x="1334.2" y="1347.3" width="14.0" height="14.38" fill="#b0b0b0"/>
<rect x="1348.3" y="1347.3" width="14.0" height="14.38" fill="#707070"/>
<rect x="1362.3" y="1347.3" width="28.1" height="14.38" fill="#000"/>
<rect x="1573.1" y="1347.3" width="154.6" height="14.38" fill="#000"/>
<rect x="1727.6" y="1347.3" width="14.0" height="14.38" fill="#a0a0a0"/>
<rect x="1095.5" y="1361.7" width="70.2" height="14.38" fill="#000"/>
<rect x="1165.8" y="1361.7" width="42.1" height="14.38" fill="#a0a0a0"/>
<rect x="1207.9" y="1361.7" width="42.2" height="14.38" fill="#707070"/>
<rect x="1250.0" y="1361.7" width="42.1" height="14.38" fill="#3c3c3c"/>
<rect x="1292.2" y="1361.7" width="14.1" height="14.38" fill="#bcbcbc"/>
<rect x="1306.2" y="1361.7" width="14.0" height="14.38" fill="#b0b0b0"/>
<rect x="1320.3" y="1361.7" width="14.0" height="14.38" fill="#c6c6c6"/>
<rect x="1334.3" y="1361.7" width="14.0" height="14.38" fill="#707070"/>
<rect x="1348.4" y="1361.7" width="14.0" height="14.38" fill="#a0a0a0"/>
<rect x="1362.4" y="1361.7" width="14.1" height="14.38" fill="#000"/>
<rect x="1573.2" y="1361.7" width="154.6" height="14.38" fill="#000"/>
<rect x="1727.8" y="1361.7" width="14.0" height="14.38" fill="#a0a0a0"/>
<rect x="1095.6" y="1376.0" width="84.3" height="14.38" fill="#000"/>
<rect x="1179.9" y="1376.0" width="42.1" height="14.38" fill="#a0a0a0"/>
<rect x="1222.1" y="1376.0" width="112.4" height="14.38" fill="#707070"/>
<rect x="1334.5" y="1376.0" width="14.0" height="14.38" fill="#a0a0a0"/>
<rect x="1348.5" y="1376.0" width="42.2" height="14.38" fill="#000"/>
<rect x="1573.3" y="1376.0" width="154.6" height="14.38" fill="#000"/>
<rect x="1727.9" y="1376.0" width="14.0" height="14.38" fill="#a0a0a0"/>
<rect x="1109.8" y="1390.3" width="84.3" height="14.38" fill="#000"/>
<rect x="1194.1" y="1390.3" width="56.2" height="14.38" fill="#a0a0a0"/>
<rect x="1250.3" y="1390.3" width="14.0" height="14.38" fill="#707070"/>
<rect x="1264.4" y="1390.3" width="70.2" height="14.38" fill="#a0a0a0"/>
<rect x="1334.6" y="1390.3" width="42.2" height="14.38" fill="#000"/>
<rect x="1573.5" y="1390.3" width="154.6" height="14.38" fill="#000"/>
<rect x="1728.0" y="1390.3" width="14.0" height="14.38" fill="#a0a0a0"/>
<rect x="1095.9" y="1404.7" width="98.3" height="14.38" fill="#000"/>
<rect x="1194.2" y="1404.7" width="140.5" height="14.38" fill="#a0a0a0"/>
<rect x="1334.7" y="1404.7" width="28.1" height="14.38" fill="#000"/>
<rect x="1573.6" y="1404.7" width="154.6" height="14.38" fill="#000"/>
<rect x="1728.1" y="1404.7" width="14.0" height="14.38" fill="#a0a0a0"/>
<rect x="1124.1" y="1419.0" width="70.2" height="14.38" fill="#000"/>
<rect x="1194.4" y="1419.0" width="140.5" height="14.38" fill="#a0a0a0"/>
<rect x="1334.9" y="1419.0" width="28.1" height="14.38" fill="#000"/>
<rect x="1559.7" y="1419.0" width="84.3" height="14.38" fill="#000"/>
<rect x="1658.0" y="1419.0" width="14.0" height="14.38" fill="#000"/>
<rect x="1686.1" y="1419.0" width="56.2" height="14.38" fill="#000"/>
<rect x="1138.3" y="1433.3" width="98.4" height="14.38" fill="#000"/>
<rect x="1236.7" y="1433.3" width="84.3" height="14.38" fill="#a0a0a0"/>
<rect x="1321.0" y="1433.3" width="56.2" height="14.38" fill="#000"/>
<rect x="1531.7" y="1433.3" width="112.4" height="14.38" fill="#000"/>
<rect x="1686.2" y="1433.3" width="42.2" height="14.38" fill="#000"/>
<rect x="1728.4" y="1433.3" width="14.0" height="14.38" fill="#a0a0a0"/>
<rect x="1124.4" y="1447.6" width="140.5" height="14.38" fill="#000"/>
<rect x="1264.9" y="1447.6" width="28.1" height="14.38" fill="#a0a0a0"/>
<rect x="1293.0" y="1447.6" width="98.4" height="14.38" fill="#000"/>
<rect x="1531.8" y="1447.6" width="98.4" height="14.38" fill="#000"/>
<rect x="1686.4" y="1447.6" width="42.2" height="14.38" fill="#000"/>
<rect x="1728.5" y="1447.6" width="14.0" height="14.38" fill="#a0a0a0"/>
<rect x="1138.6" y="1462.0" width="14.0" height="14.38" fill="#000"/>
<rect x="1194.8" y="1462.0" width="182.7" height="14.38" fill="#000"/>
<rect x="1532.0" y="1462.0" width="98.4" height="14.38" fill="#000"/>
<rect x="1686.5" y="1462.0" width="42.2" height="14.38" fill="#000"/>
<rect x="1728.7" y="1462.0" width="14.0" height="14.38" fill="#a0a0a0"/>
<rect x="1180.8" y="1476.3" width="182.6" height="14.38" fill="#000"/>
<rect x="1518.0" y="1476.3" width="98.3" height="14.38" fill="#000"/>
<rect x="1686.6" y="1476.3" width="42.2" height="14.38" fill="#000"/>
<rect x="1728.8" y="1476.3" width="14.0" height="14.38" fill="#a0a0a0"/>
<rect x="1195.0" y="1490.6" width="98.3" height="14.38" fill="#000"/>
<rect x="1518.2" y="1490.6" width="84.3" height="14.38" fill="#000"/>
<rect x="1686.8" y="1490.6" width="28.1" height="14.38" fill="#000"/>
<rect x="1714.9" y="1490.6" width="28.1" height="14.38" fill="#a0a0a0"/>
<rect x="1265.4" y="1505.0" width="14.0" height="14.38" fill="#000"/>
<rect x="1504.2" y="1505.0" width="98.4" height="14.38" fill="#000"/>
<rect x="1672.9" y="1505.0" width="42.1" height="14.38" fill="#000"/>
<rect x="1715.0" y="1505.0" width="28.1" height="14.38" fill="#a0a0a0"/>
<rect x="984.5" y="1519.3" width="14.0" height="14.38" fill="#000"/>
<rect x="1476.3" y="1519.3" width="112.4" height="14.38" fill="#000"/>
<rect x="1658.9" y="1519.3" width="42.2" height="14.38" fill="#000"/>
<rect x="1701.1" y="1519.3" width="42.1" height="14.38" fill="#a0a0a0"/>
<rect x="984.7" y="1533.6" width="28.1" height="14.38" fill="#000"/>
<rect x="1420.2" y="1533.6" width="168.6" height="14.38" fill="#000"/>
<rect x="1659.1" y="1533.6" width="56.2" height="14.38" fill="#000"/>
<rect x="1715.3" y="1533.6" width="28.1" height="14.38" fill="#a0a0a0"/>
<rect x="984.8" y="1548.0" width="98.3" height="14.38" fill="#000"/>
<rect x="1364.1" y="1548.0" width="210.8" height="14.38" fill="#000"/>
<rect x="1645.1" y="1548.0" width="98.4" height="14.38" fill="#000"/>
<rect x="984.9" y="1562.3" width="112.4" height="14.38" fill="#000"/>
<rect x="1350.2" y="1562.3" width="210.8" height="14.38" fill="#000"/>
<rect x="1631.2" y="1562.3" width="112.4" height="14.38" fill="#000"/>
<rect x="985.0" y="1576.6" width="112.4" height="14.38" fill="#000"/>
<rect x="1308.2" y="1576.6" width="238.8" height="14.38" fill="#000"/>
<rect x="1631.4" y="1576.6" width="70.2" height="14.38" fill="#000"/>
<rect x="1701.6" y="1576.6" width="14.0" height="14.38" fill="#a0a0a0"/>
<rect x="1715.6" y="1576.6" width="28.1" height="14.38" fill="#000"/>
<rect x="985.2" y="1590.9" width="140.5" height="14.38" fill="#000"/>
<rect x="1153.8" y="1590.9" width="70.2" height="14.38" fill="#000"/>
<rect x="1266.2" y="1590.9" width="281.0" height="14.38" fill="#000"/>
<rect x="1617.4" y="1590.9" width="126.5" height="14.38" fill="#000"/>
<rect x="985.3" y="1605.3" width="548.0" height="14.38" fill="#000"/>
<rect x="1603.5" y="1605.3" width="126.5" height="14.38" fill="#000"/>
<rect x="1730.0" y="1605.3" width="14.0" height="14.38" fill="#a0a0a0"/>
<rect x="1013.5" y="1619.6" width="491.7" height="14.38" fill="#000"/>
<rect x="1575.5" y="1619.6" width="140.5" height="14.38" fill="#000"/>
<rect x="1716.0" y="1619.6" width="28.1" height="14.38" fill="#a0a0a0"/>
<rect x="1069.9" y="1633.9" width="421.5" height="14.38" fill="#000"/>
<rect x="1561.6" y="1633.9" width="154.5" height="14.38" fill="#000"/>
<rect x="1716.2" y="1633.9" width="28.1" height="14.38" fill="#a0a0a0"/>
<rect x="1140.2" y="1648.3" width="337.2" height="14.38" fill="#000"/>
<rect x="1547.7" y="1648.3" width="154.6" height="14.38" fill="#000"/>
<rect x="1702.3" y="1648.3" width="42.1" height="14.38" fill="#a0a0a0"/>
</g>
<rect x="983.5" y="903.5" width="750" height="750" fill="none" stroke="#000" stroke-width="2.9"/>
<rect x="996.5" y="917" width="193.4" height="32" rx="5" fill="#000"/>
<text x="1002.5" y="939" font-size="20.8" font-weight="bold" fill="#fff">WMG Count: 28</text>
</svg>
</body></html>
